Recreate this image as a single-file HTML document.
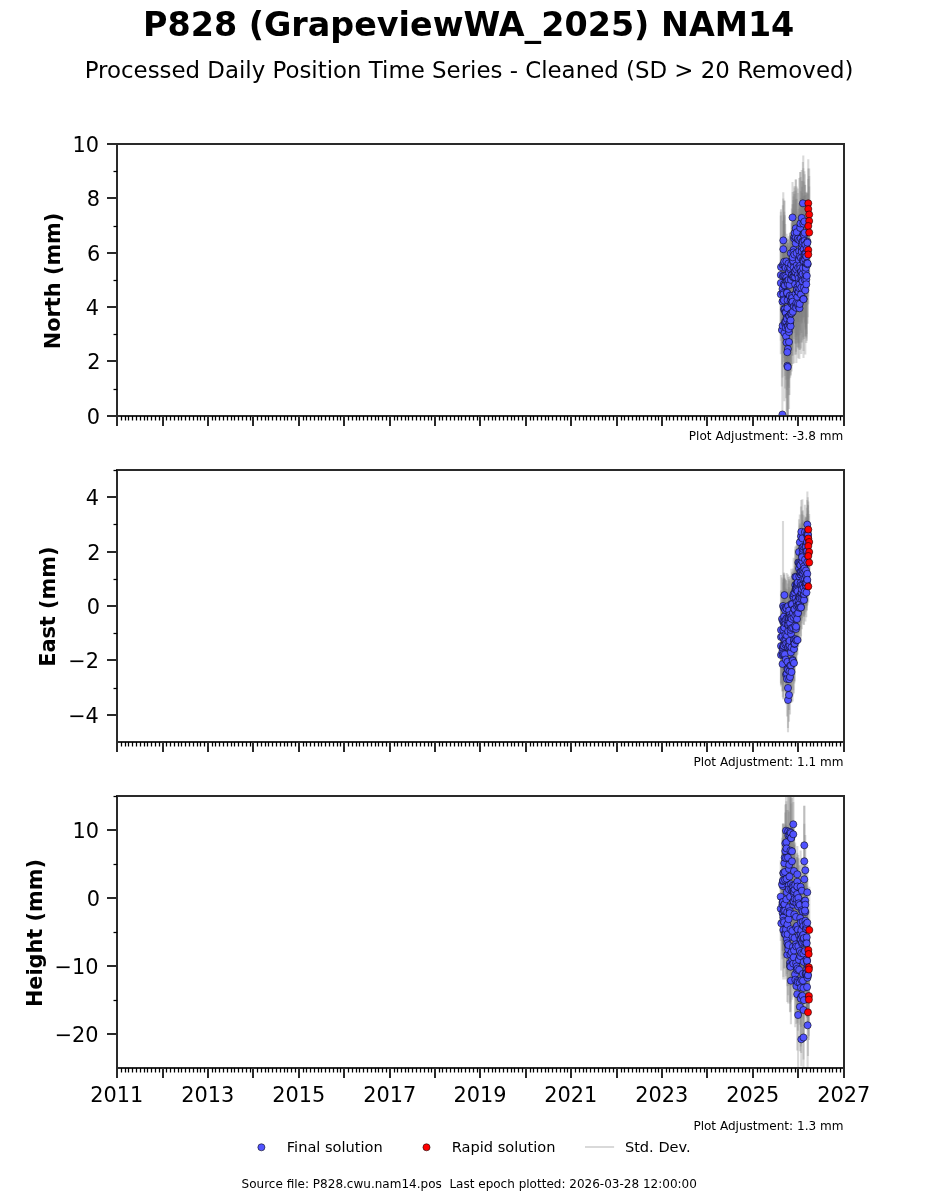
<!DOCTYPE html>
<html><head><meta charset="utf-8"><title>P828 (GrapeviewWA_2025) NAM14</title>
<style>html,body{margin:0;padding:0;background:#fff;}body{width:937px;height:1200px;overflow:hidden;}svg{display:block;will-change:transform;}</style>
</head><body>
<svg width="937" height="1200" viewBox="0 0 937 1200"><defs><clipPath id="c0"><rect x="117.19" y="144.00" width="726.56" height="271.76"/></clipPath><clipPath id="c1"><rect x="117.19" y="470.12" width="726.56" height="271.76"/></clipPath><clipPath id="c2"><rect x="117.19" y="796.24" width="726.56" height="271.76"/></clipPath></defs><rect width="937" height="1200" fill="#fff"/><g clip-path="url(#c0)"><g stroke="#808080" stroke-opacity="0.3" stroke-width="2.08"><path d="M781.0 324.7V209.3"/><path d="M780.8 354.3V211.7"/><path d="M780.8 334.6V215.4"/><path d="M780.8 340.8V247.8"/><path d="M781.9 386.6V273.4"/><path d="M782.4 364.4V238.8"/><path d="M782.4 499.5V329.5"/><path d="M782.6 377.5V273.8"/><path d="M782.5 334.5V243.5"/><path d="M782.8 324.5V205.3"/><path d="M783.0 331.4V220.8"/><path d="M783.3 351.5V234.3"/><path d="M783.4 347.4V241.5"/><path d="M783.3 282.3V198.5"/><path d="M783.5 349.2V249.8"/><path d="M783.8 353.6V214.7"/><path d="M783.3 306.1V192.3"/><path d="M784.1 334.0V217.4"/><path d="M783.9 358.0V242.8"/><path d="M784.4 401.2V264.8"/><path d="M784.0 362.1V256.5"/><path d="M784.8 376.0V242.6"/><path d="M784.3 317.3V211.8"/><path d="M784.5 329.6V200.7"/><path d="M784.6 339.4V231.4"/><path d="M784.2 323.0V200.4"/><path d="M784.9 355.3V215.3"/><path d="M785.0 369.9V277.0"/><path d="M785.1 388.4V254.8"/><path d="M785.3 328.5V224.0"/><path d="M785.4 367.4V256.9"/><path d="M785.6 291.7V244.1"/><path d="M785.8 359.6V265.9"/><path d="M785.9 379.7V275.7"/><path d="M786.1 398.2V274.5"/><path d="M786.0 368.9V273.6"/><path d="M786.3 284.4V238.4"/><path d="M786.9 340.7V245.0"/><path d="M786.4 317.7V237.9"/><path d="M786.5 411.5V273.4"/><path d="M786.6 328.7V233.7"/><path d="M786.8 367.4V267.8"/><path d="M787.0 390.0V247.6"/><path d="M787.1 342.5V243.0"/><path d="M787.9 417.5V280.5"/><path d="M787.3 420.9V283.5"/><path d="M787.6 357.7V242.8"/><path d="M787.3 415.8V315.8"/><path d="M787.4 358.7V257.8"/><path d="M787.5 318.1V243.7"/><path d="M787.9 379.5V273.8"/><path d="M787.8 415.4V318.6"/><path d="M788.5 284.2V242.8"/><path d="M788.0 329.0V239.7"/><path d="M788.1 386.5V266.1"/><path d="M788.2 298.2V239.0"/><path d="M789.1 379.5V252.9"/><path d="M788.6 323.5V236.3"/><path d="M789.6 324.3V245.8"/><path d="M789.0 408.9V275.1"/><path d="M789.0 388.1V275.9"/><path d="M788.7 395.2V262.9"/><path d="M788.9 298.1V246.0"/><path d="M789.5 394.9V251.3"/><path d="M790.0 306.2V232.5"/><path d="M789.4 373.1V258.6"/><path d="M790.1 350.4V241.1"/><path d="M789.9 358.4V233.1"/><path d="M790.2 377.7V267.5"/><path d="M790.5 368.7V234.7"/><path d="M790.6 374.8V277.7"/><path d="M790.4 300.8V234.8"/><path d="M790.6 375.7V264.9"/><path d="M790.8 270.0V236.6"/><path d="M791.5 336.6V222.4"/><path d="M791.2 296.8V232.1"/><path d="M790.7 370.2V256.8"/><path d="M791.4 349.1V251.5"/><path d="M791.6 324.3V231.0"/><path d="M791.0 327.6V232.1"/><path d="M791.6 371.5V255.1"/><path d="M791.7 366.0V241.4"/><path d="M791.8 341.9V208.6"/><path d="M792.2 325.9V223.5"/><path d="M792.0 347.2V244.6"/><path d="M792.3 350.4V245.4"/><path d="M792.1 355.7V249.3"/><path d="M792.5 253.0V182.0"/><path d="M792.5 314.4V204.2"/><path d="M792.6 355.5V248.0"/><path d="M793.3 324.4V200.0"/><path d="M793.0 310.3V210.2"/><path d="M793.2 308.6V212.8"/><path d="M792.8 364.1V259.6"/><path d="M792.7 322.7V191.9"/><path d="M793.1 330.2V224.2"/><path d="M793.8 338.9V214.5"/><path d="M793.6 295.8V204.0"/><path d="M793.5 308.3V196.5"/><path d="M794.3 315.1V193.9"/><path d="M793.7 319.5V215.8"/><path d="M794.0 285.5V191.3"/><path d="M794.1 363.2V249.4"/><path d="M794.2 333.1V211.3"/><path d="M794.5 285.7V187.4"/><path d="M795.5 337.0V208.8"/><path d="M794.6 280.3V186.0"/><path d="M795.1 354.8V213.8"/><path d="M795.0 327.5V226.6"/><path d="M795.2 324.4V220.7"/><path d="M795.6 344.0V243.2"/><path d="M795.3 343.2V199.7"/><path d="M795.7 296.0V190.5"/><path d="M795.8 296.0V179.1"/><path d="M795.8 276.6V180.0"/><path d="M796.3 340.0V198.7"/><path d="M796.0 351.8V259.5"/><path d="M796.7 278.1V186.4"/><path d="M796.4 363.0V243.1"/><path d="M796.2 354.4V261.1"/><path d="M796.6 307.2V199.1"/><path d="M796.8 319.1V211.4"/><path d="M796.9 334.9V244.7"/><path d="M797.3 342.8V250.9"/><path d="M797.4 347.1V227.4"/><path d="M797.1 336.7V242.6"/><path d="M797.7 289.6V188.6"/><path d="M798.2 321.7V213.7"/><path d="M797.9 321.9V228.1"/><path d="M797.8 284.6V192.9"/><path d="M798.3 358.2V253.5"/><path d="M798.8 316.8V203.3"/><path d="M798.4 342.6V241.5"/><path d="M798.1 348.4V258.9"/><path d="M799.1 327.2V236.6"/><path d="M798.6 343.4V240.1"/><path d="M799.4 359.1V217.2"/><path d="M798.7 347.4V208.9"/><path d="M799.3 302.3V177.9"/><path d="M799.2 298.6V203.6"/><path d="M799.5 350.0V266.6"/><path d="M799.7 349.8V258.3"/><path d="M799.6 335.3V233.5"/><path d="M800.1 311.5V220.1"/><path d="M799.9 304.6V207.8"/><path d="M800.3 330.4V206.2"/><path d="M800.6 321.8V226.3"/><path d="M800.7 275.3V176.9"/><path d="M800.2 283.6V172.1"/><path d="M800.9 348.5V240.4"/><path d="M800.4 275.2V171.9"/><path d="M800.8 285.9V191.2"/><path d="M801.3 354.1V221.1"/><path d="M801.2 342.6V216.0"/><path d="M801.0 317.7V198.1"/><path d="M801.4 333.0V209.7"/><path d="M801.7 323.5V228.1"/><path d="M801.9 301.9V197.8"/><path d="M802.0 308.2V186.7"/><path d="M801.8 322.5V181.0"/><path d="M801.7 265.9V169.9"/><path d="M802.2 342.4V217.8"/><path d="M802.5 340.2V222.2"/><path d="M802.7 319.2V228.4"/><path d="M803.0 337.2V199.1"/><path d="M802.9 306.5V212.9"/><path d="M802.3 290.0V193.0"/><path d="M802.4 308.1V180.7"/><path d="M803.5 358.0V239.9"/><path d="M803.4 300.7V168.2"/><path d="M803.2 317.8V203.4"/><path d="M803.7 299.1V199.5"/><path d="M802.8 288.1V196.2"/><path d="M803.3 291.6V155.6"/><path d="M802.9 244.7V161.9"/><path d="M803.9 339.1V235.9"/><path d="M803.5 351.1V247.3"/><path d="M803.8 317.1V205.4"/><path d="M804.0 288.5V181.6"/><path d="M804.2 312.8V195.6"/><path d="M804.5 286.1V195.7"/><path d="M804.8 336.6V222.7"/><path d="M804.4 272.0V171.2"/><path d="M805.3 354.5V226.1"/><path d="M804.7 291.4V174.2"/><path d="M805.2 321.8V184.8"/><path d="M805.0 323.4V184.9"/><path d="M805.5 327.3V220.2"/><path d="M805.4 297.2V192.1"/><path d="M806.0 335.8V195.1"/><path d="M805.6 329.8V212.6"/><path d="M805.3 307.0V211.8"/><path d="M805.8 300.0V207.6"/><path d="M806.3 336.8V193.3"/><path d="M805.9 328.5V207.2"/><path d="M806.4 302.9V209.9"/><path d="M806.3 338.5V220.9"/><path d="M806.3 342.9V225.7"/><path d="M806.9 305.3V191.8"/><path d="M806.8 340.7V211.0"/><path d="M806.5 334.0V192.8"/><path d="M807.5 290.1V193.3"/><path d="M807.4 291.8V193.6"/><path d="M807.7 317.3V211.3"/><path d="M807.6 323.7V203.1"/><path d="M808.3 247.4V159.2"/><path d="M808.3 249.6V168.4"/><path d="M809.2 260.6V168.4"/><path d="M809.2 266.1V175.9"/><path d="M808.3 273.1V178.9"/><path d="M809.2 278.6V186.4"/><path d="M808.3 296.5V203.5"/><path d="M808.3 304.2V204.8"/></g><g fill="#5153ff" stroke="#000000" stroke-width="0.55"><circle cx="781.0" cy="267.0" r="3.55"/><circle cx="780.8" cy="283.0" r="3.55"/><circle cx="780.8" cy="275.0" r="3.55"/><circle cx="780.8" cy="294.3" r="3.55"/><circle cx="781.9" cy="330.0" r="3.55"/><circle cx="782.4" cy="301.6" r="3.55"/><circle cx="782.4" cy="414.5" r="3.55"/><circle cx="782.6" cy="325.7" r="3.55"/><circle cx="782.5" cy="289.0" r="3.55"/><circle cx="782.8" cy="264.9" r="3.55"/><circle cx="783.0" cy="276.1" r="3.55"/><circle cx="783.3" cy="292.9" r="3.55"/><circle cx="783.4" cy="294.4" r="3.55"/><circle cx="783.3" cy="240.4" r="3.55"/><circle cx="783.5" cy="299.5" r="3.55"/><circle cx="783.8" cy="284.2" r="3.55"/><circle cx="783.3" cy="249.2" r="3.55"/><circle cx="784.1" cy="275.7" r="3.55"/><circle cx="783.9" cy="300.4" r="3.55"/><circle cx="784.4" cy="333.0" r="3.55"/><circle cx="784.0" cy="309.3" r="3.55"/><circle cx="784.8" cy="309.3" r="3.55"/><circle cx="784.3" cy="264.5" r="3.55"/><circle cx="784.5" cy="265.1" r="3.55"/><circle cx="784.6" cy="285.4" r="3.55"/><circle cx="784.2" cy="261.7" r="3.55"/><circle cx="784.9" cy="285.3" r="3.55"/><circle cx="785.0" cy="323.5" r="3.55"/><circle cx="785.1" cy="321.6" r="3.55"/><circle cx="785.3" cy="276.2" r="3.55"/><circle cx="785.4" cy="312.2" r="3.55"/><circle cx="785.6" cy="267.9" r="3.55"/><circle cx="785.8" cy="312.8" r="3.55"/><circle cx="785.9" cy="327.7" r="3.55"/><circle cx="786.1" cy="336.4" r="3.55"/><circle cx="786.0" cy="321.2" r="3.55"/><circle cx="786.3" cy="261.4" r="3.55"/><circle cx="786.9" cy="292.8" r="3.55"/><circle cx="786.4" cy="277.8" r="3.55"/><circle cx="786.5" cy="342.5" r="3.55"/><circle cx="786.6" cy="281.2" r="3.55"/><circle cx="786.8" cy="317.6" r="3.55"/><circle cx="787.0" cy="318.8" r="3.55"/><circle cx="787.1" cy="292.8" r="3.55"/><circle cx="787.9" cy="349.0" r="3.55"/><circle cx="787.3" cy="352.2" r="3.55"/><circle cx="787.6" cy="300.3" r="3.55"/><circle cx="787.3" cy="365.8" r="3.55"/><circle cx="787.4" cy="308.2" r="3.55"/><circle cx="787.5" cy="280.9" r="3.55"/><circle cx="787.9" cy="326.7" r="3.55"/><circle cx="787.8" cy="367.0" r="3.55"/><circle cx="788.5" cy="263.5" r="3.55"/><circle cx="788.0" cy="284.4" r="3.55"/><circle cx="788.1" cy="326.3" r="3.55"/><circle cx="788.2" cy="268.6" r="3.55"/><circle cx="789.1" cy="316.2" r="3.55"/><circle cx="788.6" cy="279.9" r="3.55"/><circle cx="789.6" cy="285.0" r="3.55"/><circle cx="789.0" cy="342.0" r="3.55"/><circle cx="789.0" cy="332.0" r="3.55"/><circle cx="788.7" cy="329.0" r="3.55"/><circle cx="788.9" cy="272.1" r="3.55"/><circle cx="789.5" cy="323.1" r="3.55"/><circle cx="790.0" cy="269.3" r="3.55"/><circle cx="789.4" cy="315.9" r="3.55"/><circle cx="790.1" cy="295.7" r="3.55"/><circle cx="789.9" cy="295.7" r="3.55"/><circle cx="790.2" cy="322.6" r="3.55"/><circle cx="790.5" cy="301.7" r="3.55"/><circle cx="790.6" cy="326.2" r="3.55"/><circle cx="790.4" cy="267.8" r="3.55"/><circle cx="790.6" cy="320.3" r="3.55"/><circle cx="790.8" cy="253.3" r="3.55"/><circle cx="791.5" cy="279.5" r="3.55"/><circle cx="791.2" cy="264.4" r="3.55"/><circle cx="790.7" cy="313.5" r="3.55"/><circle cx="791.4" cy="300.3" r="3.55"/><circle cx="791.6" cy="277.6" r="3.55"/><circle cx="791.0" cy="279.9" r="3.55"/><circle cx="791.6" cy="313.3" r="3.55"/><circle cx="791.7" cy="303.7" r="3.55"/><circle cx="791.8" cy="275.3" r="3.55"/><circle cx="792.2" cy="274.7" r="3.55"/><circle cx="792.0" cy="295.9" r="3.55"/><circle cx="792.3" cy="297.9" r="3.55"/><circle cx="792.1" cy="302.5" r="3.55"/><circle cx="792.5" cy="217.5" r="3.55"/><circle cx="792.5" cy="259.3" r="3.55"/><circle cx="792.6" cy="301.7" r="3.55"/><circle cx="793.3" cy="262.2" r="3.55"/><circle cx="793.0" cy="260.2" r="3.55"/><circle cx="793.2" cy="260.7" r="3.55"/><circle cx="792.8" cy="311.8" r="3.55"/><circle cx="792.7" cy="257.3" r="3.55"/><circle cx="793.1" cy="277.2" r="3.55"/><circle cx="793.8" cy="276.7" r="3.55"/><circle cx="793.6" cy="249.9" r="3.55"/><circle cx="793.5" cy="252.4" r="3.55"/><circle cx="794.3" cy="254.5" r="3.55"/><circle cx="793.7" cy="267.7" r="3.55"/><circle cx="794.0" cy="238.4" r="3.55"/><circle cx="794.1" cy="306.3" r="3.55"/><circle cx="794.2" cy="272.2" r="3.55"/><circle cx="794.5" cy="236.5" r="3.55"/><circle cx="795.5" cy="272.9" r="3.55"/><circle cx="794.6" cy="233.1" r="3.55"/><circle cx="795.1" cy="284.3" r="3.55"/><circle cx="795.0" cy="277.1" r="3.55"/><circle cx="795.2" cy="272.5" r="3.55"/><circle cx="795.6" cy="293.6" r="3.55"/><circle cx="795.3" cy="271.5" r="3.55"/><circle cx="795.7" cy="243.3" r="3.55"/><circle cx="795.8" cy="237.6" r="3.55"/><circle cx="795.8" cy="228.3" r="3.55"/><circle cx="796.3" cy="269.3" r="3.55"/><circle cx="796.0" cy="305.6" r="3.55"/><circle cx="796.7" cy="232.2" r="3.55"/><circle cx="796.4" cy="303.0" r="3.55"/><circle cx="796.2" cy="307.8" r="3.55"/><circle cx="796.6" cy="253.1" r="3.55"/><circle cx="796.8" cy="265.3" r="3.55"/><circle cx="796.9" cy="289.8" r="3.55"/><circle cx="797.3" cy="296.9" r="3.55"/><circle cx="797.4" cy="287.2" r="3.55"/><circle cx="797.1" cy="289.7" r="3.55"/><circle cx="797.7" cy="239.1" r="3.55"/><circle cx="798.2" cy="267.7" r="3.55"/><circle cx="797.9" cy="275.0" r="3.55"/><circle cx="797.8" cy="238.7" r="3.55"/><circle cx="798.3" cy="305.9" r="3.55"/><circle cx="798.8" cy="260.0" r="3.55"/><circle cx="798.4" cy="292.0" r="3.55"/><circle cx="798.1" cy="303.6" r="3.55"/><circle cx="799.1" cy="281.9" r="3.55"/><circle cx="798.6" cy="291.8" r="3.55"/><circle cx="799.4" cy="288.2" r="3.55"/><circle cx="798.7" cy="278.1" r="3.55"/><circle cx="799.3" cy="240.1" r="3.55"/><circle cx="799.2" cy="251.1" r="3.55"/><circle cx="799.5" cy="308.3" r="3.55"/><circle cx="799.7" cy="304.0" r="3.55"/><circle cx="799.6" cy="284.4" r="3.55"/><circle cx="800.1" cy="265.8" r="3.55"/><circle cx="799.9" cy="256.2" r="3.55"/><circle cx="800.3" cy="268.3" r="3.55"/><circle cx="800.6" cy="274.0" r="3.55"/><circle cx="800.7" cy="226.1" r="3.55"/><circle cx="800.2" cy="227.9" r="3.55"/><circle cx="800.9" cy="294.5" r="3.55"/><circle cx="800.4" cy="223.5" r="3.55"/><circle cx="800.8" cy="238.5" r="3.55"/><circle cx="801.3" cy="287.6" r="3.55"/><circle cx="801.2" cy="279.3" r="3.55"/><circle cx="801.0" cy="257.9" r="3.55"/><circle cx="801.4" cy="271.4" r="3.55"/><circle cx="801.7" cy="275.8" r="3.55"/><circle cx="801.9" cy="249.9" r="3.55"/><circle cx="802.0" cy="247.5" r="3.55"/><circle cx="801.8" cy="251.8" r="3.55"/><circle cx="801.7" cy="217.9" r="3.55"/><circle cx="802.2" cy="280.1" r="3.55"/><circle cx="802.5" cy="281.2" r="3.55"/><circle cx="802.7" cy="273.8" r="3.55"/><circle cx="803.0" cy="268.1" r="3.55"/><circle cx="802.9" cy="259.7" r="3.55"/><circle cx="802.3" cy="241.5" r="3.55"/><circle cx="802.4" cy="244.4" r="3.55"/><circle cx="803.5" cy="298.9" r="3.55"/><circle cx="803.4" cy="234.5" r="3.55"/><circle cx="803.2" cy="260.6" r="3.55"/><circle cx="803.7" cy="249.3" r="3.55"/><circle cx="802.8" cy="242.1" r="3.55"/><circle cx="803.3" cy="223.6" r="3.55"/><circle cx="802.9" cy="203.3" r="3.55"/><circle cx="803.9" cy="287.5" r="3.55"/><circle cx="803.5" cy="299.2" r="3.55"/><circle cx="803.8" cy="261.3" r="3.55"/><circle cx="804.0" cy="235.1" r="3.55"/><circle cx="804.2" cy="254.2" r="3.55"/><circle cx="804.5" cy="240.9" r="3.55"/><circle cx="804.8" cy="279.7" r="3.55"/><circle cx="804.4" cy="221.6" r="3.55"/><circle cx="805.3" cy="290.3" r="3.55"/><circle cx="804.7" cy="232.8" r="3.55"/><circle cx="805.2" cy="253.3" r="3.55"/><circle cx="805.0" cy="254.1" r="3.55"/><circle cx="805.5" cy="273.8" r="3.55"/><circle cx="805.4" cy="244.7" r="3.55"/><circle cx="806.0" cy="265.5" r="3.55"/><circle cx="805.6" cy="271.2" r="3.55"/><circle cx="805.3" cy="259.4" r="3.55"/><circle cx="805.8" cy="253.8" r="3.55"/><circle cx="806.3" cy="265.0" r="3.55"/><circle cx="805.9" cy="267.8" r="3.55"/><circle cx="806.4" cy="256.4" r="3.55"/><circle cx="806.3" cy="279.7" r="3.55"/><circle cx="806.3" cy="284.3" r="3.55"/><circle cx="806.9" cy="248.6" r="3.55"/><circle cx="806.8" cy="275.8" r="3.55"/><circle cx="806.5" cy="263.4" r="3.55"/><circle cx="807.5" cy="241.7" r="3.55"/><circle cx="807.4" cy="242.7" r="3.55"/><circle cx="807.7" cy="264.3" r="3.55"/><circle cx="807.6" cy="263.4" r="3.55"/></g><g fill="#ff0000" stroke="#000000" stroke-width="0.55"><circle cx="808.3" cy="203.3" r="3.55"/><circle cx="808.3" cy="209.0" r="3.55"/><circle cx="809.2" cy="214.5" r="3.55"/><circle cx="809.2" cy="221.0" r="3.55"/><circle cx="808.3" cy="226.0" r="3.55"/><circle cx="809.2" cy="232.5" r="3.55"/><circle cx="808.3" cy="250.0" r="3.55"/><circle cx="808.3" cy="254.5" r="3.55"/></g></g><g fill="#2a2a2a"><rect x="116" y="143" width="2" height="274"/><rect x="843" y="143" width="2" height="274"/><rect x="116" y="143" width="729" height="2"/><rect x="116" y="415" width="729" height="2"/><rect x="107" y="415" width="9" height="2"/><rect x="107" y="360" width="9" height="2"/><rect x="107" y="306" width="9" height="2"/><rect x="107" y="252" width="9" height="2"/><rect x="107" y="197" width="9" height="2"/><rect x="107" y="143" width="9" height="2"/><rect x="116" y="417" width="2" height="9"/><rect x="162" y="417" width="2" height="9"/><rect x="207" y="417" width="2" height="9"/><rect x="252" y="417" width="2" height="9"/><rect x="298" y="417" width="2" height="9"/><rect x="343" y="417" width="2" height="9"/><rect x="389" y="417" width="2" height="9"/><rect x="434" y="417" width="2" height="9"/><rect x="479" y="417" width="2" height="9"/><rect x="525" y="417" width="2" height="9"/><rect x="570" y="417" width="2" height="9"/><rect x="616" y="417" width="2" height="9"/><rect x="661" y="417" width="2" height="9"/><rect x="706" y="417" width="2" height="9"/><rect x="752" y="417" width="2" height="9"/><rect x="797" y="417" width="2" height="9"/><rect x="843" y="417" width="2" height="9"/></g><g fill="#000"><rect x="113.5" y="388.875" width="3.7" height="1.25"/><rect x="113.5" y="333.875" width="3.7" height="1.25"/><rect x="113.5" y="279.875" width="3.7" height="1.25"/><rect x="113.5" y="225.875" width="3.7" height="1.25"/><rect x="113.5" y="170.875" width="3.7" height="1.25"/><rect x="120.875" y="416" width="1.25" height="4.5"/><rect x="124.875" y="416" width="1.25" height="4.5"/><rect x="127.875" y="416" width="1.25" height="4.5"/><rect x="131.875" y="416" width="1.25" height="4.5"/><rect x="135.875" y="416" width="1.25" height="4.5"/><rect x="139.875" y="416" width="1.25" height="4.5"/><rect x="143.875" y="416" width="1.25" height="4.5"/><rect x="146.875" y="416" width="1.25" height="4.5"/><rect x="150.875" y="416" width="1.25" height="4.5"/><rect x="154.875" y="416" width="1.25" height="4.5"/><rect x="158.875" y="416" width="1.25" height="4.5"/><rect x="165.875" y="416" width="1.25" height="4.5"/><rect x="169.875" y="416" width="1.25" height="4.5"/><rect x="173.875" y="416" width="1.25" height="4.5"/><rect x="177.875" y="416" width="1.25" height="4.5"/><rect x="180.875" y="416" width="1.25" height="4.5"/><rect x="184.875" y="416" width="1.25" height="4.5"/><rect x="188.875" y="416" width="1.25" height="4.5"/><rect x="192.875" y="416" width="1.25" height="4.5"/><rect x="196.875" y="416" width="1.25" height="4.5"/><rect x="199.875" y="416" width="1.25" height="4.5"/><rect x="203.875" y="416" width="1.25" height="4.5"/><rect x="211.875" y="416" width="1.25" height="4.5"/><rect x="214.875" y="416" width="1.25" height="4.5"/><rect x="218.875" y="416" width="1.25" height="4.5"/><rect x="222.875" y="416" width="1.25" height="4.5"/><rect x="226.875" y="416" width="1.25" height="4.5"/><rect x="230.875" y="416" width="1.25" height="4.5"/><rect x="233.875" y="416" width="1.25" height="4.5"/><rect x="237.875" y="416" width="1.25" height="4.5"/><rect x="241.875" y="416" width="1.25" height="4.5"/><rect x="245.875" y="416" width="1.25" height="4.5"/><rect x="249.875" y="416" width="1.25" height="4.5"/><rect x="256.875" y="416" width="1.25" height="4.5"/><rect x="260.875" y="416" width="1.25" height="4.5"/><rect x="264.875" y="416" width="1.25" height="4.5"/><rect x="267.875" y="416" width="1.25" height="4.5"/><rect x="271.875" y="416" width="1.25" height="4.5"/><rect x="275.875" y="416" width="1.25" height="4.5"/><rect x="279.875" y="416" width="1.25" height="4.5"/><rect x="283.875" y="416" width="1.25" height="4.5"/><rect x="286.875" y="416" width="1.25" height="4.5"/><rect x="290.875" y="416" width="1.25" height="4.5"/><rect x="294.875" y="416" width="1.25" height="4.5"/><rect x="302.875" y="416" width="1.25" height="4.5"/><rect x="305.875" y="416" width="1.25" height="4.5"/><rect x="309.875" y="416" width="1.25" height="4.5"/><rect x="313.875" y="416" width="1.25" height="4.5"/><rect x="317.875" y="416" width="1.25" height="4.5"/><rect x="320.875" y="416" width="1.25" height="4.5"/><rect x="324.875" y="416" width="1.25" height="4.5"/><rect x="328.875" y="416" width="1.25" height="4.5"/><rect x="332.875" y="416" width="1.25" height="4.5"/><rect x="336.875" y="416" width="1.25" height="4.5"/><rect x="339.875" y="416" width="1.25" height="4.5"/><rect x="347.875" y="416" width="1.25" height="4.5"/><rect x="351.875" y="416" width="1.25" height="4.5"/><rect x="355.875" y="416" width="1.25" height="4.5"/><rect x="358.875" y="416" width="1.25" height="4.5"/><rect x="362.875" y="416" width="1.25" height="4.5"/><rect x="366.875" y="416" width="1.25" height="4.5"/><rect x="370.875" y="416" width="1.25" height="4.5"/><rect x="374.875" y="416" width="1.25" height="4.5"/><rect x="377.875" y="416" width="1.25" height="4.5"/><rect x="381.875" y="416" width="1.25" height="4.5"/><rect x="385.875" y="416" width="1.25" height="4.5"/><rect x="393.875" y="416" width="1.25" height="4.5"/><rect x="396.875" y="416" width="1.25" height="4.5"/><rect x="400.875" y="416" width="1.25" height="4.5"/><rect x="404.875" y="416" width="1.25" height="4.5"/><rect x="407.875" y="416" width="1.25" height="4.5"/><rect x="411.875" y="416" width="1.25" height="4.5"/><rect x="415.875" y="416" width="1.25" height="4.5"/><rect x="419.875" y="416" width="1.25" height="4.5"/><rect x="423.875" y="416" width="1.25" height="4.5"/><rect x="427.875" y="416" width="1.25" height="4.5"/><rect x="430.875" y="416" width="1.25" height="4.5"/><rect x="438.875" y="416" width="1.25" height="4.5"/><rect x="441.875" y="416" width="1.25" height="4.5"/><rect x="445.875" y="416" width="1.25" height="4.5"/><rect x="449.875" y="416" width="1.25" height="4.5"/><rect x="453.875" y="416" width="1.25" height="4.5"/><rect x="457.875" y="416" width="1.25" height="4.5"/><rect x="460.875" y="416" width="1.25" height="4.5"/><rect x="464.875" y="416" width="1.25" height="4.5"/><rect x="468.875" y="416" width="1.25" height="4.5"/><rect x="472.875" y="416" width="1.25" height="4.5"/><rect x="476.875" y="416" width="1.25" height="4.5"/><rect x="483.875" y="416" width="1.25" height="4.5"/><rect x="487.875" y="416" width="1.25" height="4.5"/><rect x="491.875" y="416" width="1.25" height="4.5"/><rect x="494.875" y="416" width="1.25" height="4.5"/><rect x="498.875" y="416" width="1.25" height="4.5"/><rect x="502.875" y="416" width="1.25" height="4.5"/><rect x="506.875" y="416" width="1.25" height="4.5"/><rect x="510.875" y="416" width="1.25" height="4.5"/><rect x="513.875" y="416" width="1.25" height="4.5"/><rect x="517.875" y="416" width="1.25" height="4.5"/><rect x="521.875" y="416" width="1.25" height="4.5"/><rect x="529.875" y="416" width="1.25" height="4.5"/><rect x="532.875" y="416" width="1.25" height="4.5"/><rect x="536.875" y="416" width="1.25" height="4.5"/><rect x="540.875" y="416" width="1.25" height="4.5"/><rect x="544.875" y="416" width="1.25" height="4.5"/><rect x="547.875" y="416" width="1.25" height="4.5"/><rect x="551.875" y="416" width="1.25" height="4.5"/><rect x="555.875" y="416" width="1.25" height="4.5"/><rect x="559.875" y="416" width="1.25" height="4.5"/><rect x="563.875" y="416" width="1.25" height="4.5"/><rect x="566.875" y="416" width="1.25" height="4.5"/><rect x="574.875" y="416" width="1.25" height="4.5"/><rect x="578.875" y="416" width="1.25" height="4.5"/><rect x="582.875" y="416" width="1.25" height="4.5"/><rect x="585.875" y="416" width="1.25" height="4.5"/><rect x="589.875" y="416" width="1.25" height="4.5"/><rect x="593.875" y="416" width="1.25" height="4.5"/><rect x="597.875" y="416" width="1.25" height="4.5"/><rect x="601.875" y="416" width="1.25" height="4.5"/><rect x="604.875" y="416" width="1.25" height="4.5"/><rect x="608.875" y="416" width="1.25" height="4.5"/><rect x="612.875" y="416" width="1.25" height="4.5"/><rect x="620.875" y="416" width="1.25" height="4.5"/><rect x="623.875" y="416" width="1.25" height="4.5"/><rect x="627.875" y="416" width="1.25" height="4.5"/><rect x="631.875" y="416" width="1.25" height="4.5"/><rect x="635.875" y="416" width="1.25" height="4.5"/><rect x="638.875" y="416" width="1.25" height="4.5"/><rect x="642.875" y="416" width="1.25" height="4.5"/><rect x="646.875" y="416" width="1.25" height="4.5"/><rect x="650.875" y="416" width="1.25" height="4.5"/><rect x="654.875" y="416" width="1.25" height="4.5"/><rect x="657.875" y="416" width="1.25" height="4.5"/><rect x="665.875" y="416" width="1.25" height="4.5"/><rect x="668.875" y="416" width="1.25" height="4.5"/><rect x="672.875" y="416" width="1.25" height="4.5"/><rect x="676.875" y="416" width="1.25" height="4.5"/><rect x="680.875" y="416" width="1.25" height="4.5"/><rect x="684.875" y="416" width="1.25" height="4.5"/><rect x="687.875" y="416" width="1.25" height="4.5"/><rect x="691.875" y="416" width="1.25" height="4.5"/><rect x="695.875" y="416" width="1.25" height="4.5"/><rect x="699.875" y="416" width="1.25" height="4.5"/><rect x="703.875" y="416" width="1.25" height="4.5"/><rect x="710.875" y="416" width="1.25" height="4.5"/><rect x="714.875" y="416" width="1.25" height="4.5"/><rect x="718.875" y="416" width="1.25" height="4.5"/><rect x="722.875" y="416" width="1.25" height="4.5"/><rect x="725.875" y="416" width="1.25" height="4.5"/><rect x="729.875" y="416" width="1.25" height="4.5"/><rect x="733.875" y="416" width="1.25" height="4.5"/><rect x="737.875" y="416" width="1.25" height="4.5"/><rect x="741.875" y="416" width="1.25" height="4.5"/><rect x="744.875" y="416" width="1.25" height="4.5"/><rect x="748.875" y="416" width="1.25" height="4.5"/><rect x="756.875" y="416" width="1.25" height="4.5"/><rect x="759.875" y="416" width="1.25" height="4.5"/><rect x="763.875" y="416" width="1.25" height="4.5"/><rect x="767.875" y="416" width="1.25" height="4.5"/><rect x="771.875" y="416" width="1.25" height="4.5"/><rect x="774.875" y="416" width="1.25" height="4.5"/><rect x="778.875" y="416" width="1.25" height="4.5"/><rect x="782.875" y="416" width="1.25" height="4.5"/><rect x="786.875" y="416" width="1.25" height="4.5"/><rect x="790.875" y="416" width="1.25" height="4.5"/><rect x="794.875" y="416" width="1.25" height="4.5"/><rect x="801.875" y="416" width="1.25" height="4.5"/><rect x="805.875" y="416" width="1.25" height="4.5"/><rect x="809.875" y="416" width="1.25" height="4.5"/><rect x="812.875" y="416" width="1.25" height="4.5"/><rect x="816.875" y="416" width="1.25" height="4.5"/><rect x="820.875" y="416" width="1.25" height="4.5"/><rect x="824.875" y="416" width="1.25" height="4.5"/><rect x="828.875" y="416" width="1.25" height="4.5"/><rect x="831.875" y="416" width="1.25" height="4.5"/><rect x="835.875" y="416" width="1.25" height="4.5"/><rect x="839.875" y="416" width="1.25" height="4.5"/></g><g clip-path="url(#c1)"><g stroke="#808080" stroke-opacity="0.3" stroke-width="2.08"><path d="M781.0 684.9V575.1"/><path d="M781.0 683.4V608.6"/><path d="M781.0 683.4V590.6"/><path d="M781.0 686.4V623.6"/><path d="M782.4 677.9V594.6"/><path d="M782.0 660.5V577.5"/><path d="M782.6 691.3V617.4"/><path d="M782.5 691.5V636.5"/><path d="M782.8 697.3V601.3"/><path d="M783.3 677.4V582.6"/><path d="M783.0 691.0V521.0"/><path d="M782.5 685.1V617.4"/><path d="M782.9 683.8V612.0"/><path d="M783.6 698.8V609.0"/><path d="M783.4 699.4V592.6"/><path d="M783.0 663.2V579.6"/><path d="M783.8 680.8V610.8"/><path d="M783.9 643.4V572.4"/><path d="M784.0 671.6V573.5"/><path d="M784.1 658.0V575.1"/><path d="M784.3 677.3V578.0"/><path d="M784.4 680.2V599.6"/><path d="M784.4 611.1V579.1"/><path d="M785.0 640.5V579.1"/><path d="M784.6 665.5V577.6"/><path d="M785.3 689.9V598.9"/><path d="M785.4 674.6V595.0"/><path d="M784.9 691.4V617.1"/><path d="M785.6 659.4V587.4"/><path d="M785.9 635.2V579.9"/><path d="M785.5 692.4V589.1"/><path d="M785.8 698.7V620.4"/><path d="M786.1 704.3V644.6"/><path d="M786.3 682.8V603.8"/><path d="M786.0 657.7V580.4"/><path d="M787.0 666.3V604.9"/><path d="M786.8 702.9V644.0"/><path d="M786.6 644.0V572.9"/><path d="M787.0 716.4V641.6"/><path d="M787.2 646.4V588.9"/><path d="M787.5 700.0V623.5"/><path d="M787.4 702.0V635.6"/><path d="M788.0 675.8V618.4"/><path d="M788.1 637.7V574.4"/><path d="M787.6 665.1V583.6"/><path d="M788.0 728.0V648.0"/><path d="M788.0 732.3V667.7"/><path d="M787.9 696.6V642.6"/><path d="M788.6 657.9V577.0"/><path d="M788.5 684.3V600.7"/><path d="M789.0 655.3V586.9"/><path d="M788.7 650.8V591.6"/><path d="M788.2 665.9V596.5"/><path d="M788.9 654.9V580.6"/><path d="M788.4 658.7V591.3"/><path d="M789.2 642.2V578.9"/><path d="M789.4 676.7V616.7"/><path d="M789.1 709.9V648.4"/><path d="M789.0 721.8V668.2"/><path d="M789.6 675.3V615.1"/><path d="M789.7 682.1V599.6"/><path d="M789.5 697.2V645.0"/><path d="M790.0 714.6V639.4"/><path d="M789.9 653.6V576.3"/><path d="M790.2 698.1V633.1"/><path d="M790.5 661.1V590.0"/><path d="M790.1 652.6V593.5"/><path d="M790.4 653.9V580.6"/><path d="M791.0 702.7V628.1"/><path d="M790.9 690.2V614.7"/><path d="M791.1 667.6V599.9"/><path d="M790.6 671.5V588.4"/><path d="M791.2 656.1V578.1"/><path d="M791.4 639.1V568.8"/><path d="M791.7 665.0V591.2"/><path d="M791.5 702.4V641.6"/><path d="M792.2 638.0V571.8"/><path d="M791.6 655.2V582.5"/><path d="M791.5 687.7V607.0"/><path d="M792.1 634.9V573.6"/><path d="M792.6 701.6V618.2"/><path d="M793.3 690.3V634.9"/><path d="M792.7 695.3V626.3"/><path d="M793.0 624.1V568.5"/><path d="M793.1 656.7V598.6"/><path d="M793.5 655.3V578.9"/><path d="M793.8 624.7V570.6"/><path d="M794.0 681.1V616.9"/><path d="M794.0 669.8V611.7"/><path d="M793.7 629.7V557.8"/><path d="M793.0 640.1V585.4"/><path d="M794.1 671.0V608.2"/><path d="M794.3 683.6V604.2"/><path d="M794.2 646.3V572.3"/><path d="M794.6 646.4V571.9"/><path d="M794.0 693.5V632.5"/><path d="M794.8 618.8V566.0"/><path d="M795.3 652.0V578.8"/><path d="M795.1 663.7V587.8"/><path d="M794.7 681.5V605.5"/><path d="M795.7 635.9V561.1"/><path d="M795.5 666.3V611.9"/><path d="M795.3 604.1V549.5"/><path d="M795.3 623.4V546.6"/><path d="M796.0 664.8V593.2"/><path d="M795.6 619.2V558.8"/><path d="M795.8 615.6V563.3"/><path d="M796.2 623.1V554.1"/><path d="M796.4 661.1V619.7"/><path d="M796.1 664.7V588.7"/><path d="M796.3 608.5V545.6"/><path d="M796.9 622.6V544.8"/><path d="M797.1 641.5V586.4"/><path d="M796.8 623.1V555.3"/><path d="M796.6 629.4V574.3"/><path d="M797.0 655.6V582.4"/><path d="M796.7 641.1V571.2"/><path d="M798.3 592.3V532.7"/><path d="M797.4 626.4V543.6"/><path d="M797.7 620.4V546.5"/><path d="M797.5 654.4V625.6"/><path d="M798.1 647.1V579.1"/><path d="M797.6 623.3V559.1"/><path d="M798.2 646.6V564.5"/><path d="M797.8 613.3V551.8"/><path d="M798.8 638.5V555.0"/><path d="M798.4 627.3V573.3"/><path d="M798.6 643.2V567.7"/><path d="M799.3 607.1V545.7"/><path d="M799.0 584.8V519.2"/><path d="M799.4 633.7V561.4"/><path d="M799.8 630.4V576.9"/><path d="M799.1 598.1V538.9"/><path d="M799.8 570.0V514.6"/><path d="M799.7 601.3V525.6"/><path d="M799.2 592.8V533.7"/><path d="M799.6 640.9V574.8"/><path d="M800.2 627.4V564.9"/><path d="M800.1 628.5V568.9"/><path d="M799.9 605.4V523.5"/><path d="M800.6 617.1V548.8"/><path d="M800.4 601.7V528.9"/><path d="M800.8 611.6V537.1"/><path d="M800.9 642.0V572.2"/><path d="M800.7 604.8V544.4"/><path d="M800.3 599.2V544.7"/><path d="M801.2 605.7V538.7"/><path d="M801.0 636.2V578.8"/><path d="M801.3 619.6V567.0"/><path d="M801.0 566.0V506.6"/><path d="M801.3 563.6V500.0"/><path d="M801.5 604.3V539.0"/><path d="M801.7 620.8V564.4"/><path d="M801.4 623.2V546.8"/><path d="M801.8 629.3V568.3"/><path d="M801.9 618.1V560.5"/><path d="M802.4 577.6V499.3"/><path d="M802.2 596.6V514.2"/><path d="M802.7 591.8V510.2"/><path d="M802.5 600.8V522.4"/><path d="M802.0 591.7V522.7"/><path d="M802.8 615.8V554.2"/><path d="M802.3 584.1V511.2"/><path d="M803.2 577.4V520.5"/><path d="M802.9 609.2V537.5"/><path d="M803.3 606.2V552.1"/><path d="M803.7 613.8V561.4"/><path d="M803.4 624.6V572.8"/><path d="M803.5 578.3V515.3"/><path d="M803.9 603.6V529.3"/><path d="M803.0 608.7V531.7"/><path d="M803.8 616.8V572.3"/><path d="M804.0 624.9V575.1"/><path d="M804.0 616.6V571.3"/><path d="M804.2 607.8V534.7"/><path d="M804.4 609.3V527.7"/><path d="M804.7 614.7V568.1"/><path d="M804.8 605.9V552.6"/><path d="M805.0 589.9V529.3"/><path d="M805.6 612.3V557.5"/><path d="M805.5 576.8V516.7"/><path d="M804.9 559.5V504.7"/><path d="M805.4 621.6V545.8"/><path d="M806.0 596.9V544.1"/><path d="M805.3 576.4V518.6"/><path d="M806.1 605.1V565.7"/><path d="M805.8 606.1V559.1"/><path d="M805.9 577.0V516.8"/><path d="M806.3 617.3V534.8"/><path d="M806.8 610.7V551.6"/><path d="M806.5 584.4V518.0"/><path d="M807.0 570.1V513.7"/><path d="M806.5 607.5V577.5"/><path d="M807.4 572.9V491.4"/><path d="M807.3 601.0V523.7"/><path d="M806.9 561.9V507.7"/><path d="M806.6 610.0V555.2"/><path d="M807.3 605.8V541.8"/><path d="M807.5 592.6V517.6"/><path d="M807.3 549.3V499.9"/><path d="M807.6 579.7V523.6"/><path d="M807.3 604.5V555.1"/><path d="M807.1 581.7V520.3"/><path d="M807.9 563.6V505.5"/><path d="M807.8 577.7V497.2"/><path d="M808.0 564.9V504.7"/><path d="M808.3 557.6V501.4"/><path d="M808.3 566.6V510.4"/><path d="M809.2 570.1V513.9"/><path d="M808.3 576.1V515.9"/><path d="M809.2 578.8V525.2"/><path d="M808.3 588.2V523.8"/><path d="M809.2 589.9V535.1"/><path d="M808.3 602.5V570.3"/></g><g fill="#5153ff" stroke="#000000" stroke-width="0.55"><circle cx="781.0" cy="630.0" r="3.55"/><circle cx="781.0" cy="646.0" r="3.55"/><circle cx="781.0" cy="637.0" r="3.55"/><circle cx="781.0" cy="655.0" r="3.55"/><circle cx="782.4" cy="636.3" r="3.55"/><circle cx="782.0" cy="619.0" r="3.55"/><circle cx="782.6" cy="654.3" r="3.55"/><circle cx="782.5" cy="664.0" r="3.55"/><circle cx="782.8" cy="649.3" r="3.55"/><circle cx="783.3" cy="630.0" r="3.55"/><circle cx="783.0" cy="606.0" r="3.55"/><circle cx="782.5" cy="651.2" r="3.55"/><circle cx="782.9" cy="647.9" r="3.55"/><circle cx="783.6" cy="653.9" r="3.55"/><circle cx="783.4" cy="646.0" r="3.55"/><circle cx="783.0" cy="621.4" r="3.55"/><circle cx="783.8" cy="645.8" r="3.55"/><circle cx="783.9" cy="607.9" r="3.55"/><circle cx="784.0" cy="622.6" r="3.55"/><circle cx="784.1" cy="616.5" r="3.55"/><circle cx="784.3" cy="627.6" r="3.55"/><circle cx="784.4" cy="639.9" r="3.55"/><circle cx="784.4" cy="595.1" r="3.55"/><circle cx="785.0" cy="609.8" r="3.55"/><circle cx="784.6" cy="621.5" r="3.55"/><circle cx="785.3" cy="644.4" r="3.55"/><circle cx="785.4" cy="634.8" r="3.55"/><circle cx="784.9" cy="654.3" r="3.55"/><circle cx="785.6" cy="623.4" r="3.55"/><circle cx="785.9" cy="607.6" r="3.55"/><circle cx="785.5" cy="640.7" r="3.55"/><circle cx="785.8" cy="659.5" r="3.55"/><circle cx="786.1" cy="674.5" r="3.55"/><circle cx="786.3" cy="643.3" r="3.55"/><circle cx="786.0" cy="619.1" r="3.55"/><circle cx="787.0" cy="635.6" r="3.55"/><circle cx="786.8" cy="673.4" r="3.55"/><circle cx="786.6" cy="608.5" r="3.55"/><circle cx="787.0" cy="679.0" r="3.55"/><circle cx="787.2" cy="617.7" r="3.55"/><circle cx="787.5" cy="661.8" r="3.55"/><circle cx="787.4" cy="668.8" r="3.55"/><circle cx="788.0" cy="647.1" r="3.55"/><circle cx="788.1" cy="606.1" r="3.55"/><circle cx="787.6" cy="624.3" r="3.55"/><circle cx="788.0" cy="688.0" r="3.55"/><circle cx="788.0" cy="700.0" r="3.55"/><circle cx="787.9" cy="669.6" r="3.55"/><circle cx="788.6" cy="617.5" r="3.55"/><circle cx="788.5" cy="642.5" r="3.55"/><circle cx="789.0" cy="621.1" r="3.55"/><circle cx="788.7" cy="621.2" r="3.55"/><circle cx="788.2" cy="631.2" r="3.55"/><circle cx="788.9" cy="617.7" r="3.55"/><circle cx="788.4" cy="625.0" r="3.55"/><circle cx="789.2" cy="610.5" r="3.55"/><circle cx="789.4" cy="646.7" r="3.55"/><circle cx="789.1" cy="679.2" r="3.55"/><circle cx="789.0" cy="695.0" r="3.55"/><circle cx="789.6" cy="645.2" r="3.55"/><circle cx="789.7" cy="640.8" r="3.55"/><circle cx="789.5" cy="671.1" r="3.55"/><circle cx="790.0" cy="677.0" r="3.55"/><circle cx="789.9" cy="615.0" r="3.55"/><circle cx="790.2" cy="665.6" r="3.55"/><circle cx="790.5" cy="625.6" r="3.55"/><circle cx="790.1" cy="623.0" r="3.55"/><circle cx="790.4" cy="617.2" r="3.55"/><circle cx="791.0" cy="665.4" r="3.55"/><circle cx="790.9" cy="652.4" r="3.55"/><circle cx="791.1" cy="633.7" r="3.55"/><circle cx="790.6" cy="629.9" r="3.55"/><circle cx="791.2" cy="617.1" r="3.55"/><circle cx="791.4" cy="604.0" r="3.55"/><circle cx="791.7" cy="628.1" r="3.55"/><circle cx="791.5" cy="672.0" r="3.55"/><circle cx="792.2" cy="604.9" r="3.55"/><circle cx="791.6" cy="618.8" r="3.55"/><circle cx="791.5" cy="647.4" r="3.55"/><circle cx="792.1" cy="604.3" r="3.55"/><circle cx="792.6" cy="659.9" r="3.55"/><circle cx="793.3" cy="662.6" r="3.55"/><circle cx="792.7" cy="660.8" r="3.55"/><circle cx="793.0" cy="596.3" r="3.55"/><circle cx="793.1" cy="627.7" r="3.55"/><circle cx="793.5" cy="617.1" r="3.55"/><circle cx="793.8" cy="597.6" r="3.55"/><circle cx="794.0" cy="649.0" r="3.55"/><circle cx="794.0" cy="640.8" r="3.55"/><circle cx="793.7" cy="593.8" r="3.55"/><circle cx="793.0" cy="612.8" r="3.55"/><circle cx="794.1" cy="639.6" r="3.55"/><circle cx="794.3" cy="643.9" r="3.55"/><circle cx="794.2" cy="609.3" r="3.55"/><circle cx="794.6" cy="609.2" r="3.55"/><circle cx="794.0" cy="663.0" r="3.55"/><circle cx="794.8" cy="592.4" r="3.55"/><circle cx="795.3" cy="615.4" r="3.55"/><circle cx="795.1" cy="625.8" r="3.55"/><circle cx="794.7" cy="643.5" r="3.55"/><circle cx="795.7" cy="598.5" r="3.55"/><circle cx="795.5" cy="639.1" r="3.55"/><circle cx="795.3" cy="576.8" r="3.55"/><circle cx="795.3" cy="585.0" r="3.55"/><circle cx="796.0" cy="629.0" r="3.55"/><circle cx="795.6" cy="589.0" r="3.55"/><circle cx="795.8" cy="589.4" r="3.55"/><circle cx="796.2" cy="588.6" r="3.55"/><circle cx="796.4" cy="640.4" r="3.55"/><circle cx="796.1" cy="626.7" r="3.55"/><circle cx="796.3" cy="577.1" r="3.55"/><circle cx="796.9" cy="583.7" r="3.55"/><circle cx="797.1" cy="614.0" r="3.55"/><circle cx="796.8" cy="589.2" r="3.55"/><circle cx="796.6" cy="601.9" r="3.55"/><circle cx="797.0" cy="619.0" r="3.55"/><circle cx="796.7" cy="606.1" r="3.55"/><circle cx="798.3" cy="562.5" r="3.55"/><circle cx="797.4" cy="585.0" r="3.55"/><circle cx="797.7" cy="583.4" r="3.55"/><circle cx="797.5" cy="640.0" r="3.55"/><circle cx="798.1" cy="613.1" r="3.55"/><circle cx="797.6" cy="591.2" r="3.55"/><circle cx="798.2" cy="605.5" r="3.55"/><circle cx="797.8" cy="582.5" r="3.55"/><circle cx="798.8" cy="596.8" r="3.55"/><circle cx="798.4" cy="600.3" r="3.55"/><circle cx="798.6" cy="605.4" r="3.55"/><circle cx="799.3" cy="576.4" r="3.55"/><circle cx="799.0" cy="552.0" r="3.55"/><circle cx="799.4" cy="597.5" r="3.55"/><circle cx="799.8" cy="603.7" r="3.55"/><circle cx="799.1" cy="568.5" r="3.55"/><circle cx="799.8" cy="542.3" r="3.55"/><circle cx="799.7" cy="563.5" r="3.55"/><circle cx="799.2" cy="563.2" r="3.55"/><circle cx="799.6" cy="607.8" r="3.55"/><circle cx="800.2" cy="596.2" r="3.55"/><circle cx="800.1" cy="598.7" r="3.55"/><circle cx="799.9" cy="564.4" r="3.55"/><circle cx="800.6" cy="582.9" r="3.55"/><circle cx="800.4" cy="565.3" r="3.55"/><circle cx="800.8" cy="574.4" r="3.55"/><circle cx="800.9" cy="607.1" r="3.55"/><circle cx="800.7" cy="574.6" r="3.55"/><circle cx="800.3" cy="571.9" r="3.55"/><circle cx="801.2" cy="572.2" r="3.55"/><circle cx="801.0" cy="607.5" r="3.55"/><circle cx="801.3" cy="593.3" r="3.55"/><circle cx="801.0" cy="536.3" r="3.55"/><circle cx="801.3" cy="531.8" r="3.55"/><circle cx="801.5" cy="571.7" r="3.55"/><circle cx="801.7" cy="592.6" r="3.55"/><circle cx="801.4" cy="585.0" r="3.55"/><circle cx="801.8" cy="598.8" r="3.55"/><circle cx="801.9" cy="589.3" r="3.55"/><circle cx="802.4" cy="538.4" r="3.55"/><circle cx="802.2" cy="555.4" r="3.55"/><circle cx="802.7" cy="551.0" r="3.55"/><circle cx="802.5" cy="561.6" r="3.55"/><circle cx="802.0" cy="557.2" r="3.55"/><circle cx="802.8" cy="585.0" r="3.55"/><circle cx="802.3" cy="547.7" r="3.55"/><circle cx="803.2" cy="549.0" r="3.55"/><circle cx="802.9" cy="573.3" r="3.55"/><circle cx="803.3" cy="579.1" r="3.55"/><circle cx="803.7" cy="587.6" r="3.55"/><circle cx="803.4" cy="598.7" r="3.55"/><circle cx="803.5" cy="546.8" r="3.55"/><circle cx="803.9" cy="566.4" r="3.55"/><circle cx="803.0" cy="570.2" r="3.55"/><circle cx="803.8" cy="594.5" r="3.55"/><circle cx="804.0" cy="600.0" r="3.55"/><circle cx="804.0" cy="594.0" r="3.55"/><circle cx="804.2" cy="571.2" r="3.55"/><circle cx="804.4" cy="568.5" r="3.55"/><circle cx="804.7" cy="591.4" r="3.55"/><circle cx="804.8" cy="579.3" r="3.55"/><circle cx="805.0" cy="559.6" r="3.55"/><circle cx="805.6" cy="584.9" r="3.55"/><circle cx="805.5" cy="546.7" r="3.55"/><circle cx="804.9" cy="532.1" r="3.55"/><circle cx="805.4" cy="583.7" r="3.55"/><circle cx="806.0" cy="570.5" r="3.55"/><circle cx="805.3" cy="547.5" r="3.55"/><circle cx="806.1" cy="585.4" r="3.55"/><circle cx="805.8" cy="582.6" r="3.55"/><circle cx="805.9" cy="546.9" r="3.55"/><circle cx="806.3" cy="576.1" r="3.55"/><circle cx="806.8" cy="581.1" r="3.55"/><circle cx="806.5" cy="551.2" r="3.55"/><circle cx="807.0" cy="541.9" r="3.55"/><circle cx="806.5" cy="592.5" r="3.55"/><circle cx="807.4" cy="532.1" r="3.55"/><circle cx="807.3" cy="562.3" r="3.55"/><circle cx="806.9" cy="534.8" r="3.55"/><circle cx="806.6" cy="582.6" r="3.55"/><circle cx="807.3" cy="573.8" r="3.55"/><circle cx="807.5" cy="555.1" r="3.55"/><circle cx="807.3" cy="524.6" r="3.55"/><circle cx="807.6" cy="551.7" r="3.55"/><circle cx="807.3" cy="579.8" r="3.55"/><circle cx="807.1" cy="551.0" r="3.55"/><circle cx="807.9" cy="534.6" r="3.55"/><circle cx="807.8" cy="537.5" r="3.55"/><circle cx="808.0" cy="534.8" r="3.55"/></g><g fill="#ff0000" stroke="#000000" stroke-width="0.55"><circle cx="808.3" cy="529.5" r="3.55"/><circle cx="808.3" cy="538.5" r="3.55"/><circle cx="809.2" cy="542.0" r="3.55"/><circle cx="808.3" cy="546.0" r="3.55"/><circle cx="809.2" cy="552.0" r="3.55"/><circle cx="808.3" cy="556.0" r="3.55"/><circle cx="809.2" cy="562.5" r="3.55"/><circle cx="808.3" cy="586.4" r="3.55"/></g></g><g fill="#2a2a2a"><rect x="116" y="469" width="2" height="274"/><rect x="843" y="469" width="2" height="274"/><rect x="116" y="469" width="729" height="2"/><rect x="116" y="741" width="729" height="2"/><rect x="107" y="714" width="9" height="2"/><rect x="107" y="659" width="9" height="2"/><rect x="107" y="605" width="9" height="2"/><rect x="107" y="551" width="9" height="2"/><rect x="107" y="496" width="9" height="2"/><rect x="116" y="743" width="2" height="9"/><rect x="162" y="743" width="2" height="9"/><rect x="207" y="743" width="2" height="9"/><rect x="252" y="743" width="2" height="9"/><rect x="298" y="743" width="2" height="9"/><rect x="343" y="743" width="2" height="9"/><rect x="389" y="743" width="2" height="9"/><rect x="434" y="743" width="2" height="9"/><rect x="479" y="743" width="2" height="9"/><rect x="525" y="743" width="2" height="9"/><rect x="570" y="743" width="2" height="9"/><rect x="616" y="743" width="2" height="9"/><rect x="661" y="743" width="2" height="9"/><rect x="706" y="743" width="2" height="9"/><rect x="752" y="743" width="2" height="9"/><rect x="797" y="743" width="2" height="9"/><rect x="843" y="743" width="2" height="9"/></g><g fill="#000"><rect x="113.5" y="687.875" width="3.7" height="1.25"/><rect x="113.5" y="632.875" width="3.7" height="1.25"/><rect x="113.5" y="578.875" width="3.7" height="1.25"/><rect x="113.5" y="523.875" width="3.7" height="1.25"/><rect x="113.5" y="469.875" width="3.7" height="1.25"/><rect x="120.875" y="742" width="1.25" height="4.5"/><rect x="124.875" y="742" width="1.25" height="4.5"/><rect x="127.875" y="742" width="1.25" height="4.5"/><rect x="131.875" y="742" width="1.25" height="4.5"/><rect x="135.875" y="742" width="1.25" height="4.5"/><rect x="139.875" y="742" width="1.25" height="4.5"/><rect x="143.875" y="742" width="1.25" height="4.5"/><rect x="146.875" y="742" width="1.25" height="4.5"/><rect x="150.875" y="742" width="1.25" height="4.5"/><rect x="154.875" y="742" width="1.25" height="4.5"/><rect x="158.875" y="742" width="1.25" height="4.5"/><rect x="165.875" y="742" width="1.25" height="4.5"/><rect x="169.875" y="742" width="1.25" height="4.5"/><rect x="173.875" y="742" width="1.25" height="4.5"/><rect x="177.875" y="742" width="1.25" height="4.5"/><rect x="180.875" y="742" width="1.25" height="4.5"/><rect x="184.875" y="742" width="1.25" height="4.5"/><rect x="188.875" y="742" width="1.25" height="4.5"/><rect x="192.875" y="742" width="1.25" height="4.5"/><rect x="196.875" y="742" width="1.25" height="4.5"/><rect x="199.875" y="742" width="1.25" height="4.5"/><rect x="203.875" y="742" width="1.25" height="4.5"/><rect x="211.875" y="742" width="1.25" height="4.5"/><rect x="214.875" y="742" width="1.25" height="4.5"/><rect x="218.875" y="742" width="1.25" height="4.5"/><rect x="222.875" y="742" width="1.25" height="4.5"/><rect x="226.875" y="742" width="1.25" height="4.5"/><rect x="230.875" y="742" width="1.25" height="4.5"/><rect x="233.875" y="742" width="1.25" height="4.5"/><rect x="237.875" y="742" width="1.25" height="4.5"/><rect x="241.875" y="742" width="1.25" height="4.5"/><rect x="245.875" y="742" width="1.25" height="4.5"/><rect x="249.875" y="742" width="1.25" height="4.5"/><rect x="256.875" y="742" width="1.25" height="4.5"/><rect x="260.875" y="742" width="1.25" height="4.5"/><rect x="264.875" y="742" width="1.25" height="4.5"/><rect x="267.875" y="742" width="1.25" height="4.5"/><rect x="271.875" y="742" width="1.25" height="4.5"/><rect x="275.875" y="742" width="1.25" height="4.5"/><rect x="279.875" y="742" width="1.25" height="4.5"/><rect x="283.875" y="742" width="1.25" height="4.5"/><rect x="286.875" y="742" width="1.25" height="4.5"/><rect x="290.875" y="742" width="1.25" height="4.5"/><rect x="294.875" y="742" width="1.25" height="4.5"/><rect x="302.875" y="742" width="1.25" height="4.5"/><rect x="305.875" y="742" width="1.25" height="4.5"/><rect x="309.875" y="742" width="1.25" height="4.5"/><rect x="313.875" y="742" width="1.25" height="4.5"/><rect x="317.875" y="742" width="1.25" height="4.5"/><rect x="320.875" y="742" width="1.25" height="4.5"/><rect x="324.875" y="742" width="1.25" height="4.5"/><rect x="328.875" y="742" width="1.25" height="4.5"/><rect x="332.875" y="742" width="1.25" height="4.5"/><rect x="336.875" y="742" width="1.25" height="4.5"/><rect x="339.875" y="742" width="1.25" height="4.5"/><rect x="347.875" y="742" width="1.25" height="4.5"/><rect x="351.875" y="742" width="1.25" height="4.5"/><rect x="355.875" y="742" width="1.25" height="4.5"/><rect x="358.875" y="742" width="1.25" height="4.5"/><rect x="362.875" y="742" width="1.25" height="4.5"/><rect x="366.875" y="742" width="1.25" height="4.5"/><rect x="370.875" y="742" width="1.25" height="4.5"/><rect x="374.875" y="742" width="1.25" height="4.5"/><rect x="377.875" y="742" width="1.25" height="4.5"/><rect x="381.875" y="742" width="1.25" height="4.5"/><rect x="385.875" y="742" width="1.25" height="4.5"/><rect x="393.875" y="742" width="1.25" height="4.5"/><rect x="396.875" y="742" width="1.25" height="4.5"/><rect x="400.875" y="742" width="1.25" height="4.5"/><rect x="404.875" y="742" width="1.25" height="4.5"/><rect x="407.875" y="742" width="1.25" height="4.5"/><rect x="411.875" y="742" width="1.25" height="4.5"/><rect x="415.875" y="742" width="1.25" height="4.5"/><rect x="419.875" y="742" width="1.25" height="4.5"/><rect x="423.875" y="742" width="1.25" height="4.5"/><rect x="427.875" y="742" width="1.25" height="4.5"/><rect x="430.875" y="742" width="1.25" height="4.5"/><rect x="438.875" y="742" width="1.25" height="4.5"/><rect x="441.875" y="742" width="1.25" height="4.5"/><rect x="445.875" y="742" width="1.25" height="4.5"/><rect x="449.875" y="742" width="1.25" height="4.5"/><rect x="453.875" y="742" width="1.25" height="4.5"/><rect x="457.875" y="742" width="1.25" height="4.5"/><rect x="460.875" y="742" width="1.25" height="4.5"/><rect x="464.875" y="742" width="1.25" height="4.5"/><rect x="468.875" y="742" width="1.25" height="4.5"/><rect x="472.875" y="742" width="1.25" height="4.5"/><rect x="476.875" y="742" width="1.25" height="4.5"/><rect x="483.875" y="742" width="1.25" height="4.5"/><rect x="487.875" y="742" width="1.25" height="4.5"/><rect x="491.875" y="742" width="1.25" height="4.5"/><rect x="494.875" y="742" width="1.25" height="4.5"/><rect x="498.875" y="742" width="1.25" height="4.5"/><rect x="502.875" y="742" width="1.25" height="4.5"/><rect x="506.875" y="742" width="1.25" height="4.5"/><rect x="510.875" y="742" width="1.25" height="4.5"/><rect x="513.875" y="742" width="1.25" height="4.5"/><rect x="517.875" y="742" width="1.25" height="4.5"/><rect x="521.875" y="742" width="1.25" height="4.5"/><rect x="529.875" y="742" width="1.25" height="4.5"/><rect x="532.875" y="742" width="1.25" height="4.5"/><rect x="536.875" y="742" width="1.25" height="4.5"/><rect x="540.875" y="742" width="1.25" height="4.5"/><rect x="544.875" y="742" width="1.25" height="4.5"/><rect x="547.875" y="742" width="1.25" height="4.5"/><rect x="551.875" y="742" width="1.25" height="4.5"/><rect x="555.875" y="742" width="1.25" height="4.5"/><rect x="559.875" y="742" width="1.25" height="4.5"/><rect x="563.875" y="742" width="1.25" height="4.5"/><rect x="566.875" y="742" width="1.25" height="4.5"/><rect x="574.875" y="742" width="1.25" height="4.5"/><rect x="578.875" y="742" width="1.25" height="4.5"/><rect x="582.875" y="742" width="1.25" height="4.5"/><rect x="585.875" y="742" width="1.25" height="4.5"/><rect x="589.875" y="742" width="1.25" height="4.5"/><rect x="593.875" y="742" width="1.25" height="4.5"/><rect x="597.875" y="742" width="1.25" height="4.5"/><rect x="601.875" y="742" width="1.25" height="4.5"/><rect x="604.875" y="742" width="1.25" height="4.5"/><rect x="608.875" y="742" width="1.25" height="4.5"/><rect x="612.875" y="742" width="1.25" height="4.5"/><rect x="620.875" y="742" width="1.25" height="4.5"/><rect x="623.875" y="742" width="1.25" height="4.5"/><rect x="627.875" y="742" width="1.25" height="4.5"/><rect x="631.875" y="742" width="1.25" height="4.5"/><rect x="635.875" y="742" width="1.25" height="4.5"/><rect x="638.875" y="742" width="1.25" height="4.5"/><rect x="642.875" y="742" width="1.25" height="4.5"/><rect x="646.875" y="742" width="1.25" height="4.5"/><rect x="650.875" y="742" width="1.25" height="4.5"/><rect x="654.875" y="742" width="1.25" height="4.5"/><rect x="657.875" y="742" width="1.25" height="4.5"/><rect x="665.875" y="742" width="1.25" height="4.5"/><rect x="668.875" y="742" width="1.25" height="4.5"/><rect x="672.875" y="742" width="1.25" height="4.5"/><rect x="676.875" y="742" width="1.25" height="4.5"/><rect x="680.875" y="742" width="1.25" height="4.5"/><rect x="684.875" y="742" width="1.25" height="4.5"/><rect x="687.875" y="742" width="1.25" height="4.5"/><rect x="691.875" y="742" width="1.25" height="4.5"/><rect x="695.875" y="742" width="1.25" height="4.5"/><rect x="699.875" y="742" width="1.25" height="4.5"/><rect x="703.875" y="742" width="1.25" height="4.5"/><rect x="710.875" y="742" width="1.25" height="4.5"/><rect x="714.875" y="742" width="1.25" height="4.5"/><rect x="718.875" y="742" width="1.25" height="4.5"/><rect x="722.875" y="742" width="1.25" height="4.5"/><rect x="725.875" y="742" width="1.25" height="4.5"/><rect x="729.875" y="742" width="1.25" height="4.5"/><rect x="733.875" y="742" width="1.25" height="4.5"/><rect x="737.875" y="742" width="1.25" height="4.5"/><rect x="741.875" y="742" width="1.25" height="4.5"/><rect x="744.875" y="742" width="1.25" height="4.5"/><rect x="748.875" y="742" width="1.25" height="4.5"/><rect x="756.875" y="742" width="1.25" height="4.5"/><rect x="759.875" y="742" width="1.25" height="4.5"/><rect x="763.875" y="742" width="1.25" height="4.5"/><rect x="767.875" y="742" width="1.25" height="4.5"/><rect x="771.875" y="742" width="1.25" height="4.5"/><rect x="774.875" y="742" width="1.25" height="4.5"/><rect x="778.875" y="742" width="1.25" height="4.5"/><rect x="782.875" y="742" width="1.25" height="4.5"/><rect x="786.875" y="742" width="1.25" height="4.5"/><rect x="790.875" y="742" width="1.25" height="4.5"/><rect x="794.875" y="742" width="1.25" height="4.5"/><rect x="801.875" y="742" width="1.25" height="4.5"/><rect x="805.875" y="742" width="1.25" height="4.5"/><rect x="809.875" y="742" width="1.25" height="4.5"/><rect x="812.875" y="742" width="1.25" height="4.5"/><rect x="816.875" y="742" width="1.25" height="4.5"/><rect x="820.875" y="742" width="1.25" height="4.5"/><rect x="824.875" y="742" width="1.25" height="4.5"/><rect x="828.875" y="742" width="1.25" height="4.5"/><rect x="831.875" y="742" width="1.25" height="4.5"/><rect x="835.875" y="742" width="1.25" height="4.5"/><rect x="839.875" y="742" width="1.25" height="4.5"/></g><g clip-path="url(#c2)"><g stroke="#808080" stroke-opacity="0.3" stroke-width="2.08"><path d="M780.7 933.1V860.3"/><path d="M780.7 940.9V876.5"/><path d="M781.3 970.5V876.1"/><path d="M782.8 942.2V829.8"/><path d="M782.4 959.3V849.9"/><path d="M782.0 930.8V837.8"/><path d="M782.6 955.4V870.9"/><path d="M782.9 938.4V823.8"/><path d="M782.5 950.7V853.7"/><path d="M783.1 937.1V823.6"/><path d="M783.0 951.2V852.7"/><path d="M783.3 922.5V823.5"/><path d="M783.3 979.6V880.4"/><path d="M783.8 950.2V883.2"/><path d="M783.5 910.2V836.0"/><path d="M783.3 949.3V885.6"/><path d="M783.4 976.9V864.6"/><path d="M784.0 968.4V852.7"/><path d="M783.9 957.5V863.6"/><path d="M784.6 968.3V899.6"/><path d="M784.3 896.7V829.7"/><path d="M784.5 947.3V862.4"/><path d="M784.4 945.2V863.3"/><path d="M784.1 957.7V886.7"/><path d="M784.7 890.2V825.2"/><path d="M784.9 920.0V823.8"/><path d="M785.0 931.8V827.5"/><path d="M785.1 942.4V878.8"/><path d="M785.3 882.0V804.6"/><path d="M785.3 889.4V812.6"/><path d="M785.4 979.5V889.1"/><path d="M786.0 976.2V882.4"/><path d="M786.0 872.2V789.2"/><path d="M786.1 912.4V803.9"/><path d="M786.4 883.1V801.2"/><path d="M786.5 886.9V809.9"/><path d="M786.8 943.8V840.9"/><path d="M786.6 932.3V825.1"/><path d="M786.3 953.9V844.8"/><path d="M786.9 974.0V904.6"/><path d="M787.6 969.7V898.6"/><path d="M787.3 986.3V900.3"/><path d="M787.2 969.2V855.0"/><path d="M787.3 1002.1V907.3"/><path d="M787.9 904.9V810.0"/><path d="M787.4 963.7V885.4"/><path d="M788.0 1003.5V888.1"/><path d="M788.1 866.6V796.3"/><path d="M788.2 995.2V903.9"/><path d="M788.4 884.5V786.7"/><path d="M788.6 971.9V866.5"/><path d="M788.7 938.3V832.7"/><path d="M788.5 985.9V904.2"/><path d="M788.9 926.9V851.7"/><path d="M789.0 926.3V811.5"/><path d="M789.1 952.7V861.7"/><path d="M789.5 914.5V838.7"/><path d="M789.2 898.7V830.9"/><path d="M789.9 963.6V858.6"/><path d="M789.6 967.0V859.4"/><path d="M789.7 881.2V789.3"/><path d="M790.0 1003.7V922.2"/><path d="M790.1 945.3V848.3"/><path d="M790.4 1011.8V896.9"/><path d="M790.0 1012.2V919.8"/><path d="M790.5 902.6V798.6"/><path d="M790.2 882.9V780.7"/><path d="M791.0 935.4V833.0"/><path d="M790.9 1024.3V937.1"/><path d="M790.5 1001.8V931.8"/><path d="M790.6 978.8V879.7"/><path d="M790.7 876.2V789.9"/><path d="M791.2 945.8V831.9"/><path d="M791.3 872.0V803.4"/><path d="M791.5 985.4V919.0"/><path d="M791.1 886.0V790.4"/><path d="M792.0 904.5V798.1"/><path d="M792.0 893.4V829.2"/><path d="M792.5 984.2V889.8"/><path d="M792.3 968.4V893.5"/><path d="M792.7 943.7V827.7"/><path d="M792.2 999.7V919.5"/><path d="M793.3 866.6V802.0"/><path d="M793.2 939.2V835.4"/><path d="M793.0 985.0V908.1"/><path d="M792.6 933.1V849.6"/><path d="M793.3 997.2V929.9"/><path d="M793.1 944.0V865.5"/><path d="M793.7 991.2V923.7"/><path d="M793.5 939.0V864.6"/><path d="M794.0 917.2V824.8"/><path d="M793.8 929.5V852.7"/><path d="M793.3 867.6V781.0"/><path d="M794.2 949.3V838.9"/><path d="M794.1 937.8V845.5"/><path d="M794.0 981.3V919.7"/><path d="M793.6 958.0V844.2"/><path d="M794.3 949.9V878.9"/><path d="M794.5 977.7V898.4"/><path d="M794.6 934.0V844.6"/><path d="M794.8 946.1V851.4"/><path d="M795.0 1013.9V934.8"/><path d="M795.2 927.2V842.6"/><path d="M795.3 1027.3V932.2"/><path d="M795.8 987.2V901.6"/><path d="M796.3 1023.9V948.1"/><path d="M796.0 958.4V875.4"/><path d="M796.2 968.2V886.7"/><path d="M796.1 1001.3V925.0"/><path d="M796.4 949.3V857.1"/><path d="M796.3 990.8V902.1"/><path d="M796.8 1011.4V928.4"/><path d="M796.6 944.1V853.7"/><path d="M797.2 931.0V857.1"/><path d="M797.1 973.9V877.6"/><path d="M797.3 910.7V852.7"/><path d="M797.2 1050.4V938.0"/><path d="M796.7 999.2V933.4"/><path d="M797.3 888.8V859.8"/><path d="M797.4 1022.7V939.1"/><path d="M797.6 1009.7V927.5"/><path d="M797.7 915.4V858.3"/><path d="M797.9 1030.7V934.0"/><path d="M797.3 927.1V845.9"/><path d="M798.1 1068.4V961.6"/><path d="M797.8 962.9V896.4"/><path d="M798.3 990.3V902.1"/><path d="M798.2 958.0V855.0"/><path d="M798.4 930.2V865.5"/><path d="M798.7 948.5V858.2"/><path d="M799.1 993.2V877.6"/><path d="M799.4 995.0V921.6"/><path d="M798.9 993.1V926.6"/><path d="M799.2 1007.9V931.7"/><path d="M799.8 944.6V865.3"/><path d="M800.4 977.1V901.1"/><path d="M799.7 1024.7V940.5"/><path d="M799.9 1004.3V897.6"/><path d="M799.9 1051.3V962.3"/><path d="M800.2 964.5V871.5"/><path d="M800.7 966.7V900.6"/><path d="M800.9 971.3V907.7"/><path d="M800.3 1012.7V899.4"/><path d="M800.6 923.1V850.4"/><path d="M801.2 1053.1V940.0"/><path d="M801.0 1026.9V948.1"/><path d="M800.8 1046.6V950.8"/><path d="M801.4 1001.6V904.6"/><path d="M800.8 955.0V890.0"/><path d="M801.9 922.6V858.7"/><path d="M801.3 1066.2V1012.4"/><path d="M801.5 1013.7V946.6"/><path d="M801.8 948.5V871.9"/><path d="M801.3 965.7V894.7"/><path d="M802.0 982.3V904.8"/><path d="M802.3 985.2V899.7"/><path d="M802.2 975.5V898.0"/><path d="M802.7 961.3V882.5"/><path d="M802.4 1039.4V952.2"/><path d="M802.8 960.7V862.4"/><path d="M802.9 1005.0V942.7"/><path d="M803.0 1038.6V922.8"/><path d="M803.5 967.9V883.8"/><path d="M803.3 1009.5V897.8"/><path d="M803.7 992.1V931.7"/><path d="M803.4 1019.6V956.4"/><path d="M803.5 1069.6V1005.4"/><path d="M804.3 934.9V823.7"/><path d="M804.0 1041.7V958.6"/><path d="M803.2 988.6V881.2"/><path d="M803.5 1059.4V960.6"/><path d="M804.2 974.1V909.2"/><path d="M804.3 884.7V805.9"/><path d="M804.3 978.1V899.5"/><path d="M805.0 993.8V908.4"/><path d="M803.9 989.2V887.0"/><path d="M804.5 933.2V868.5"/><path d="M804.3 917.2V805.4"/><path d="M805.2 944.0V857.3"/><path d="M805.3 952.2V871.8"/><path d="M805.6 1023.5V924.4"/><path d="M805.3 942.4V867.0"/><path d="M804.9 960.6V860.7"/><path d="M805.4 962.4V879.1"/><path d="M805.9 971.9V885.1"/><path d="M805.3 905.6V835.0"/><path d="M806.4 1010.3V938.9"/><path d="M806.3 996.4V888.1"/><path d="M806.0 975.0V882.7"/><path d="M807.0 969.3V885.6"/><path d="M806.1 975.6V872.2"/><path d="M806.9 1016.6V905.5"/><path d="M806.5 1007.6V938.7"/><path d="M806.7 995.2V879.4"/><path d="M807.1 1017.4V956.6"/><path d="M807.3 919.8V864.8"/><path d="M806.7 980.7V905.9"/><path d="M806.6 996.4V922.2"/><path d="M807.3 1010.8V923.1"/><path d="M807.6 1072.2V978.4"/><path d="M807.3 964.9V880.5"/><path d="M807.5 1027.8V927.8"/><path d="M807.1 1017.4V904.2"/><path d="M807.4 1003.4V933.9"/><path d="M807.9 1011.7V938.4"/><path d="M808.0 1022.4V928.2"/><path d="M809.3 973.3V886.7"/><path d="M808.3 990.6V909.4"/><path d="M808.7 986.6V921.4"/><path d="M808.9 1011.5V922.9"/><path d="M808.9 1003.2V935.8"/><path d="M808.9 1036.2V955.8"/><path d="M808.9 1040.0V959.2"/><path d="M808.0 1055.9V968.7"/></g><g fill="#5153ff" stroke="#000000" stroke-width="0.55"><circle cx="780.7" cy="896.7" r="3.55"/><circle cx="780.7" cy="908.7" r="3.55"/><circle cx="781.3" cy="923.3" r="3.55"/><circle cx="782.8" cy="886.0" r="3.55"/><circle cx="782.4" cy="904.6" r="3.55"/><circle cx="782.0" cy="884.3" r="3.55"/><circle cx="782.6" cy="913.2" r="3.55"/><circle cx="782.9" cy="881.1" r="3.55"/><circle cx="782.5" cy="902.2" r="3.55"/><circle cx="783.1" cy="880.4" r="3.55"/><circle cx="783.0" cy="901.9" r="3.55"/><circle cx="783.3" cy="873.0" r="3.55"/><circle cx="783.3" cy="930.0" r="3.55"/><circle cx="783.8" cy="916.7" r="3.55"/><circle cx="783.5" cy="873.1" r="3.55"/><circle cx="783.3" cy="917.5" r="3.55"/><circle cx="783.4" cy="920.8" r="3.55"/><circle cx="784.0" cy="910.6" r="3.55"/><circle cx="783.9" cy="910.6" r="3.55"/><circle cx="784.6" cy="933.9" r="3.55"/><circle cx="784.3" cy="863.2" r="3.55"/><circle cx="784.5" cy="904.8" r="3.55"/><circle cx="784.4" cy="904.2" r="3.55"/><circle cx="784.1" cy="922.2" r="3.55"/><circle cx="784.7" cy="857.7" r="3.55"/><circle cx="784.9" cy="871.9" r="3.55"/><circle cx="785.0" cy="879.6" r="3.55"/><circle cx="785.1" cy="910.6" r="3.55"/><circle cx="785.3" cy="843.3" r="3.55"/><circle cx="785.3" cy="851.0" r="3.55"/><circle cx="785.4" cy="934.3" r="3.55"/><circle cx="786.0" cy="929.3" r="3.55"/><circle cx="786.0" cy="830.7" r="3.55"/><circle cx="786.1" cy="858.1" r="3.55"/><circle cx="786.4" cy="842.2" r="3.55"/><circle cx="786.5" cy="848.4" r="3.55"/><circle cx="786.8" cy="892.3" r="3.55"/><circle cx="786.6" cy="878.7" r="3.55"/><circle cx="786.3" cy="899.4" r="3.55"/><circle cx="786.9" cy="939.3" r="3.55"/><circle cx="787.6" cy="934.2" r="3.55"/><circle cx="787.3" cy="943.3" r="3.55"/><circle cx="787.2" cy="912.1" r="3.55"/><circle cx="787.3" cy="954.7" r="3.55"/><circle cx="787.9" cy="857.5" r="3.55"/><circle cx="787.4" cy="924.5" r="3.55"/><circle cx="788.0" cy="945.8" r="3.55"/><circle cx="788.1" cy="831.4" r="3.55"/><circle cx="788.2" cy="949.6" r="3.55"/><circle cx="788.4" cy="835.6" r="3.55"/><circle cx="788.6" cy="919.2" r="3.55"/><circle cx="788.7" cy="885.5" r="3.55"/><circle cx="788.5" cy="945.1" r="3.55"/><circle cx="788.9" cy="889.3" r="3.55"/><circle cx="789.0" cy="868.9" r="3.55"/><circle cx="789.1" cy="907.2" r="3.55"/><circle cx="789.5" cy="876.6" r="3.55"/><circle cx="789.2" cy="864.8" r="3.55"/><circle cx="789.9" cy="911.1" r="3.55"/><circle cx="789.6" cy="913.2" r="3.55"/><circle cx="789.7" cy="835.3" r="3.55"/><circle cx="790.0" cy="962.9" r="3.55"/><circle cx="790.1" cy="896.8" r="3.55"/><circle cx="790.4" cy="954.4" r="3.55"/><circle cx="790.0" cy="966.0" r="3.55"/><circle cx="790.5" cy="850.6" r="3.55"/><circle cx="790.2" cy="831.8" r="3.55"/><circle cx="791.0" cy="884.2" r="3.55"/><circle cx="790.9" cy="980.7" r="3.55"/><circle cx="790.5" cy="966.8" r="3.55"/><circle cx="790.6" cy="929.3" r="3.55"/><circle cx="790.7" cy="833.0" r="3.55"/><circle cx="791.2" cy="888.9" r="3.55"/><circle cx="791.3" cy="837.7" r="3.55"/><circle cx="791.5" cy="952.2" r="3.55"/><circle cx="791.1" cy="838.2" r="3.55"/><circle cx="792.0" cy="851.3" r="3.55"/><circle cx="792.0" cy="861.3" r="3.55"/><circle cx="792.5" cy="937.0" r="3.55"/><circle cx="792.3" cy="930.9" r="3.55"/><circle cx="792.7" cy="885.7" r="3.55"/><circle cx="792.2" cy="959.6" r="3.55"/><circle cx="793.3" cy="834.3" r="3.55"/><circle cx="793.2" cy="887.3" r="3.55"/><circle cx="793.0" cy="946.6" r="3.55"/><circle cx="792.6" cy="891.3" r="3.55"/><circle cx="793.3" cy="963.6" r="3.55"/><circle cx="793.1" cy="904.7" r="3.55"/><circle cx="793.7" cy="957.4" r="3.55"/><circle cx="793.5" cy="901.8" r="3.55"/><circle cx="794.0" cy="871.0" r="3.55"/><circle cx="793.8" cy="891.1" r="3.55"/><circle cx="793.3" cy="824.3" r="3.55"/><circle cx="794.2" cy="894.1" r="3.55"/><circle cx="794.1" cy="891.6" r="3.55"/><circle cx="794.0" cy="950.5" r="3.55"/><circle cx="793.6" cy="901.1" r="3.55"/><circle cx="794.3" cy="914.4" r="3.55"/><circle cx="794.5" cy="938.0" r="3.55"/><circle cx="794.6" cy="889.3" r="3.55"/><circle cx="794.8" cy="898.7" r="3.55"/><circle cx="795.0" cy="974.4" r="3.55"/><circle cx="795.2" cy="884.9" r="3.55"/><circle cx="795.3" cy="979.7" r="3.55"/><circle cx="795.8" cy="944.4" r="3.55"/><circle cx="796.3" cy="986.0" r="3.55"/><circle cx="796.0" cy="916.9" r="3.55"/><circle cx="796.2" cy="927.4" r="3.55"/><circle cx="796.1" cy="963.2" r="3.55"/><circle cx="796.4" cy="903.2" r="3.55"/><circle cx="796.3" cy="946.5" r="3.55"/><circle cx="796.8" cy="969.9" r="3.55"/><circle cx="796.6" cy="898.9" r="3.55"/><circle cx="797.2" cy="894.1" r="3.55"/><circle cx="797.1" cy="925.8" r="3.55"/><circle cx="797.3" cy="881.7" r="3.55"/><circle cx="797.2" cy="994.2" r="3.55"/><circle cx="796.7" cy="966.3" r="3.55"/><circle cx="797.3" cy="874.3" r="3.55"/><circle cx="797.4" cy="980.9" r="3.55"/><circle cx="797.6" cy="968.6" r="3.55"/><circle cx="797.7" cy="886.9" r="3.55"/><circle cx="797.9" cy="982.3" r="3.55"/><circle cx="797.3" cy="886.5" r="3.55"/><circle cx="798.1" cy="1015.0" r="3.55"/><circle cx="797.8" cy="929.6" r="3.55"/><circle cx="798.3" cy="946.2" r="3.55"/><circle cx="798.2" cy="906.5" r="3.55"/><circle cx="798.4" cy="897.9" r="3.55"/><circle cx="798.7" cy="903.3" r="3.55"/><circle cx="799.1" cy="935.4" r="3.55"/><circle cx="799.4" cy="958.3" r="3.55"/><circle cx="798.9" cy="959.8" r="3.55"/><circle cx="799.2" cy="969.8" r="3.55"/><circle cx="799.8" cy="904.9" r="3.55"/><circle cx="800.4" cy="939.1" r="3.55"/><circle cx="799.7" cy="982.6" r="3.55"/><circle cx="799.9" cy="951.0" r="3.55"/><circle cx="799.9" cy="1006.8" r="3.55"/><circle cx="800.2" cy="918.0" r="3.55"/><circle cx="800.7" cy="933.7" r="3.55"/><circle cx="800.9" cy="939.5" r="3.55"/><circle cx="800.3" cy="956.1" r="3.55"/><circle cx="800.6" cy="886.7" r="3.55"/><circle cx="801.2" cy="996.6" r="3.55"/><circle cx="801.0" cy="987.5" r="3.55"/><circle cx="800.8" cy="998.7" r="3.55"/><circle cx="801.4" cy="953.1" r="3.55"/><circle cx="800.8" cy="922.5" r="3.55"/><circle cx="801.9" cy="890.7" r="3.55"/><circle cx="801.3" cy="1039.3" r="3.55"/><circle cx="801.5" cy="980.1" r="3.55"/><circle cx="801.8" cy="910.2" r="3.55"/><circle cx="801.3" cy="930.2" r="3.55"/><circle cx="802.0" cy="943.6" r="3.55"/><circle cx="802.3" cy="942.4" r="3.55"/><circle cx="802.2" cy="936.7" r="3.55"/><circle cx="802.7" cy="921.9" r="3.55"/><circle cx="802.4" cy="995.8" r="3.55"/><circle cx="802.8" cy="911.5" r="3.55"/><circle cx="802.9" cy="973.8" r="3.55"/><circle cx="803.0" cy="980.7" r="3.55"/><circle cx="803.5" cy="925.9" r="3.55"/><circle cx="803.3" cy="953.6" r="3.55"/><circle cx="803.7" cy="961.9" r="3.55"/><circle cx="803.4" cy="988.0" r="3.55"/><circle cx="803.5" cy="1037.5" r="3.55"/><circle cx="804.3" cy="879.3" r="3.55"/><circle cx="804.0" cy="1000.1" r="3.55"/><circle cx="803.2" cy="934.9" r="3.55"/><circle cx="803.5" cy="1010.0" r="3.55"/><circle cx="804.2" cy="941.6" r="3.55"/><circle cx="804.3" cy="845.3" r="3.55"/><circle cx="804.3" cy="938.8" r="3.55"/><circle cx="805.0" cy="951.1" r="3.55"/><circle cx="803.9" cy="938.1" r="3.55"/><circle cx="804.5" cy="900.9" r="3.55"/><circle cx="804.3" cy="861.3" r="3.55"/><circle cx="805.2" cy="900.6" r="3.55"/><circle cx="805.3" cy="912.0" r="3.55"/><circle cx="805.6" cy="973.9" r="3.55"/><circle cx="805.3" cy="904.7" r="3.55"/><circle cx="804.9" cy="910.6" r="3.55"/><circle cx="805.4" cy="920.8" r="3.55"/><circle cx="805.9" cy="928.5" r="3.55"/><circle cx="805.3" cy="870.3" r="3.55"/><circle cx="806.4" cy="974.6" r="3.55"/><circle cx="806.3" cy="942.3" r="3.55"/><circle cx="806.0" cy="928.8" r="3.55"/><circle cx="807.0" cy="927.4" r="3.55"/><circle cx="806.1" cy="923.9" r="3.55"/><circle cx="806.9" cy="961.0" r="3.55"/><circle cx="806.5" cy="973.1" r="3.55"/><circle cx="806.7" cy="937.3" r="3.55"/><circle cx="807.1" cy="987.0" r="3.55"/><circle cx="807.3" cy="892.3" r="3.55"/><circle cx="806.7" cy="943.3" r="3.55"/><circle cx="806.6" cy="959.3" r="3.55"/><circle cx="807.3" cy="967.0" r="3.55"/><circle cx="807.6" cy="1025.3" r="3.55"/><circle cx="807.3" cy="922.7" r="3.55"/><circle cx="807.5" cy="977.8" r="3.55"/><circle cx="807.1" cy="960.8" r="3.55"/><circle cx="807.4" cy="968.7" r="3.55"/><circle cx="807.9" cy="975.1" r="3.55"/><circle cx="808.0" cy="975.3" r="3.55"/></g><g fill="#ff0000" stroke="#000000" stroke-width="0.55"><circle cx="809.3" cy="930.0" r="3.55"/><circle cx="808.3" cy="950.0" r="3.55"/><circle cx="808.7" cy="954.0" r="3.55"/><circle cx="808.9" cy="967.2" r="3.55"/><circle cx="808.9" cy="969.5" r="3.55"/><circle cx="808.9" cy="996.0" r="3.55"/><circle cx="808.9" cy="999.6" r="3.55"/><circle cx="808.0" cy="1012.3" r="3.55"/></g></g><g fill="#2a2a2a"><rect x="116" y="795" width="2" height="274"/><rect x="843" y="795" width="2" height="274"/><rect x="116" y="795" width="729" height="2"/><rect x="116" y="1067" width="729" height="2"/><rect x="107" y="1033" width="9" height="2"/><rect x="107" y="965" width="9" height="2"/><rect x="107" y="897" width="9" height="2"/><rect x="107" y="829" width="9" height="2"/><rect x="116" y="1069" width="2" height="9"/><rect x="162" y="1069" width="2" height="9"/><rect x="207" y="1069" width="2" height="9"/><rect x="252" y="1069" width="2" height="9"/><rect x="298" y="1069" width="2" height="9"/><rect x="343" y="1069" width="2" height="9"/><rect x="389" y="1069" width="2" height="9"/><rect x="434" y="1069" width="2" height="9"/><rect x="479" y="1069" width="2" height="9"/><rect x="525" y="1069" width="2" height="9"/><rect x="570" y="1069" width="2" height="9"/><rect x="616" y="1069" width="2" height="9"/><rect x="661" y="1069" width="2" height="9"/><rect x="706" y="1069" width="2" height="9"/><rect x="752" y="1069" width="2" height="9"/><rect x="797" y="1069" width="2" height="9"/><rect x="843" y="1069" width="2" height="9"/></g><g fill="#000"><rect x="113.5" y="999.875" width="3.7" height="1.25"/><rect x="113.5" y="931.875" width="3.7" height="1.25"/><rect x="113.5" y="863.875" width="3.7" height="1.25"/><rect x="113.5" y="795.875" width="3.7" height="1.25"/><rect x="120.875" y="1068" width="1.25" height="4.5"/><rect x="124.875" y="1068" width="1.25" height="4.5"/><rect x="127.875" y="1068" width="1.25" height="4.5"/><rect x="131.875" y="1068" width="1.25" height="4.5"/><rect x="135.875" y="1068" width="1.25" height="4.5"/><rect x="139.875" y="1068" width="1.25" height="4.5"/><rect x="143.875" y="1068" width="1.25" height="4.5"/><rect x="146.875" y="1068" width="1.25" height="4.5"/><rect x="150.875" y="1068" width="1.25" height="4.5"/><rect x="154.875" y="1068" width="1.25" height="4.5"/><rect x="158.875" y="1068" width="1.25" height="4.5"/><rect x="165.875" y="1068" width="1.25" height="4.5"/><rect x="169.875" y="1068" width="1.25" height="4.5"/><rect x="173.875" y="1068" width="1.25" height="4.5"/><rect x="177.875" y="1068" width="1.25" height="4.5"/><rect x="180.875" y="1068" width="1.25" height="4.5"/><rect x="184.875" y="1068" width="1.25" height="4.5"/><rect x="188.875" y="1068" width="1.25" height="4.5"/><rect x="192.875" y="1068" width="1.25" height="4.5"/><rect x="196.875" y="1068" width="1.25" height="4.5"/><rect x="199.875" y="1068" width="1.25" height="4.5"/><rect x="203.875" y="1068" width="1.25" height="4.5"/><rect x="211.875" y="1068" width="1.25" height="4.5"/><rect x="214.875" y="1068" width="1.25" height="4.5"/><rect x="218.875" y="1068" width="1.25" height="4.5"/><rect x="222.875" y="1068" width="1.25" height="4.5"/><rect x="226.875" y="1068" width="1.25" height="4.5"/><rect x="230.875" y="1068" width="1.25" height="4.5"/><rect x="233.875" y="1068" width="1.25" height="4.5"/><rect x="237.875" y="1068" width="1.25" height="4.5"/><rect x="241.875" y="1068" width="1.25" height="4.5"/><rect x="245.875" y="1068" width="1.25" height="4.5"/><rect x="249.875" y="1068" width="1.25" height="4.5"/><rect x="256.875" y="1068" width="1.25" height="4.5"/><rect x="260.875" y="1068" width="1.25" height="4.5"/><rect x="264.875" y="1068" width="1.25" height="4.5"/><rect x="267.875" y="1068" width="1.25" height="4.5"/><rect x="271.875" y="1068" width="1.25" height="4.5"/><rect x="275.875" y="1068" width="1.25" height="4.5"/><rect x="279.875" y="1068" width="1.25" height="4.5"/><rect x="283.875" y="1068" width="1.25" height="4.5"/><rect x="286.875" y="1068" width="1.25" height="4.5"/><rect x="290.875" y="1068" width="1.25" height="4.5"/><rect x="294.875" y="1068" width="1.25" height="4.5"/><rect x="302.875" y="1068" width="1.25" height="4.5"/><rect x="305.875" y="1068" width="1.25" height="4.5"/><rect x="309.875" y="1068" width="1.25" height="4.5"/><rect x="313.875" y="1068" width="1.25" height="4.5"/><rect x="317.875" y="1068" width="1.25" height="4.5"/><rect x="320.875" y="1068" width="1.25" height="4.5"/><rect x="324.875" y="1068" width="1.25" height="4.5"/><rect x="328.875" y="1068" width="1.25" height="4.5"/><rect x="332.875" y="1068" width="1.25" height="4.5"/><rect x="336.875" y="1068" width="1.25" height="4.5"/><rect x="339.875" y="1068" width="1.25" height="4.5"/><rect x="347.875" y="1068" width="1.25" height="4.5"/><rect x="351.875" y="1068" width="1.25" height="4.5"/><rect x="355.875" y="1068" width="1.25" height="4.5"/><rect x="358.875" y="1068" width="1.25" height="4.5"/><rect x="362.875" y="1068" width="1.25" height="4.5"/><rect x="366.875" y="1068" width="1.25" height="4.5"/><rect x="370.875" y="1068" width="1.25" height="4.5"/><rect x="374.875" y="1068" width="1.25" height="4.5"/><rect x="377.875" y="1068" width="1.25" height="4.5"/><rect x="381.875" y="1068" width="1.25" height="4.5"/><rect x="385.875" y="1068" width="1.25" height="4.5"/><rect x="393.875" y="1068" width="1.25" height="4.5"/><rect x="396.875" y="1068" width="1.25" height="4.5"/><rect x="400.875" y="1068" width="1.25" height="4.5"/><rect x="404.875" y="1068" width="1.25" height="4.5"/><rect x="407.875" y="1068" width="1.25" height="4.5"/><rect x="411.875" y="1068" width="1.25" height="4.5"/><rect x="415.875" y="1068" width="1.25" height="4.5"/><rect x="419.875" y="1068" width="1.25" height="4.5"/><rect x="423.875" y="1068" width="1.25" height="4.5"/><rect x="427.875" y="1068" width="1.25" height="4.5"/><rect x="430.875" y="1068" width="1.25" height="4.5"/><rect x="438.875" y="1068" width="1.25" height="4.5"/><rect x="441.875" y="1068" width="1.25" height="4.5"/><rect x="445.875" y="1068" width="1.25" height="4.5"/><rect x="449.875" y="1068" width="1.25" height="4.5"/><rect x="453.875" y="1068" width="1.25" height="4.5"/><rect x="457.875" y="1068" width="1.25" height="4.5"/><rect x="460.875" y="1068" width="1.25" height="4.5"/><rect x="464.875" y="1068" width="1.25" height="4.5"/><rect x="468.875" y="1068" width="1.25" height="4.5"/><rect x="472.875" y="1068" width="1.25" height="4.5"/><rect x="476.875" y="1068" width="1.25" height="4.5"/><rect x="483.875" y="1068" width="1.25" height="4.5"/><rect x="487.875" y="1068" width="1.25" height="4.5"/><rect x="491.875" y="1068" width="1.25" height="4.5"/><rect x="494.875" y="1068" width="1.25" height="4.5"/><rect x="498.875" y="1068" width="1.25" height="4.5"/><rect x="502.875" y="1068" width="1.25" height="4.5"/><rect x="506.875" y="1068" width="1.25" height="4.5"/><rect x="510.875" y="1068" width="1.25" height="4.5"/><rect x="513.875" y="1068" width="1.25" height="4.5"/><rect x="517.875" y="1068" width="1.25" height="4.5"/><rect x="521.875" y="1068" width="1.25" height="4.5"/><rect x="529.875" y="1068" width="1.25" height="4.5"/><rect x="532.875" y="1068" width="1.25" height="4.5"/><rect x="536.875" y="1068" width="1.25" height="4.5"/><rect x="540.875" y="1068" width="1.25" height="4.5"/><rect x="544.875" y="1068" width="1.25" height="4.5"/><rect x="547.875" y="1068" width="1.25" height="4.5"/><rect x="551.875" y="1068" width="1.25" height="4.5"/><rect x="555.875" y="1068" width="1.25" height="4.5"/><rect x="559.875" y="1068" width="1.25" height="4.5"/><rect x="563.875" y="1068" width="1.25" height="4.5"/><rect x="566.875" y="1068" width="1.25" height="4.5"/><rect x="574.875" y="1068" width="1.25" height="4.5"/><rect x="578.875" y="1068" width="1.25" height="4.5"/><rect x="582.875" y="1068" width="1.25" height="4.5"/><rect x="585.875" y="1068" width="1.25" height="4.5"/><rect x="589.875" y="1068" width="1.25" height="4.5"/><rect x="593.875" y="1068" width="1.25" height="4.5"/><rect x="597.875" y="1068" width="1.25" height="4.5"/><rect x="601.875" y="1068" width="1.25" height="4.5"/><rect x="604.875" y="1068" width="1.25" height="4.5"/><rect x="608.875" y="1068" width="1.25" height="4.5"/><rect x="612.875" y="1068" width="1.25" height="4.5"/><rect x="620.875" y="1068" width="1.25" height="4.5"/><rect x="623.875" y="1068" width="1.25" height="4.5"/><rect x="627.875" y="1068" width="1.25" height="4.5"/><rect x="631.875" y="1068" width="1.25" height="4.5"/><rect x="635.875" y="1068" width="1.25" height="4.5"/><rect x="638.875" y="1068" width="1.25" height="4.5"/><rect x="642.875" y="1068" width="1.25" height="4.5"/><rect x="646.875" y="1068" width="1.25" height="4.5"/><rect x="650.875" y="1068" width="1.25" height="4.5"/><rect x="654.875" y="1068" width="1.25" height="4.5"/><rect x="657.875" y="1068" width="1.25" height="4.5"/><rect x="665.875" y="1068" width="1.25" height="4.5"/><rect x="668.875" y="1068" width="1.25" height="4.5"/><rect x="672.875" y="1068" width="1.25" height="4.5"/><rect x="676.875" y="1068" width="1.25" height="4.5"/><rect x="680.875" y="1068" width="1.25" height="4.5"/><rect x="684.875" y="1068" width="1.25" height="4.5"/><rect x="687.875" y="1068" width="1.25" height="4.5"/><rect x="691.875" y="1068" width="1.25" height="4.5"/><rect x="695.875" y="1068" width="1.25" height="4.5"/><rect x="699.875" y="1068" width="1.25" height="4.5"/><rect x="703.875" y="1068" width="1.25" height="4.5"/><rect x="710.875" y="1068" width="1.25" height="4.5"/><rect x="714.875" y="1068" width="1.25" height="4.5"/><rect x="718.875" y="1068" width="1.25" height="4.5"/><rect x="722.875" y="1068" width="1.25" height="4.5"/><rect x="725.875" y="1068" width="1.25" height="4.5"/><rect x="729.875" y="1068" width="1.25" height="4.5"/><rect x="733.875" y="1068" width="1.25" height="4.5"/><rect x="737.875" y="1068" width="1.25" height="4.5"/><rect x="741.875" y="1068" width="1.25" height="4.5"/><rect x="744.875" y="1068" width="1.25" height="4.5"/><rect x="748.875" y="1068" width="1.25" height="4.5"/><rect x="756.875" y="1068" width="1.25" height="4.5"/><rect x="759.875" y="1068" width="1.25" height="4.5"/><rect x="763.875" y="1068" width="1.25" height="4.5"/><rect x="767.875" y="1068" width="1.25" height="4.5"/><rect x="771.875" y="1068" width="1.25" height="4.5"/><rect x="774.875" y="1068" width="1.25" height="4.5"/><rect x="778.875" y="1068" width="1.25" height="4.5"/><rect x="782.875" y="1068" width="1.25" height="4.5"/><rect x="786.875" y="1068" width="1.25" height="4.5"/><rect x="790.875" y="1068" width="1.25" height="4.5"/><rect x="794.875" y="1068" width="1.25" height="4.5"/><rect x="801.875" y="1068" width="1.25" height="4.5"/><rect x="805.875" y="1068" width="1.25" height="4.5"/><rect x="809.875" y="1068" width="1.25" height="4.5"/><rect x="812.875" y="1068" width="1.25" height="4.5"/><rect x="816.875" y="1068" width="1.25" height="4.5"/><rect x="820.875" y="1068" width="1.25" height="4.5"/><rect x="824.875" y="1068" width="1.25" height="4.5"/><rect x="828.875" y="1068" width="1.25" height="4.5"/><rect x="831.875" y="1068" width="1.25" height="4.5"/><rect x="835.875" y="1068" width="1.25" height="4.5"/><rect x="839.875" y="1068" width="1.25" height="4.5"/></g><circle cx="261.4" cy="1147.3" r="3.55" fill="#5153ff" stroke="#000000" stroke-width="0.55"/><circle cx="426.5" cy="1147.3" r="3.55" fill="#ff0000" stroke="#000000" stroke-width="0.55"/><path d="M585 1147H614.1" stroke="#808080" stroke-opacity="0.3" stroke-width="2"/><g style="font-family:'DejaVu Sans', 'Liberation Sans', sans-serif" fill="#000"><text x="468.69" y="35.75" text-anchor="middle" font-size="33.375" font-weight="bold">P828 (GrapeviewWA_2025) NAM14</text><text x="469.07" y="77.95" text-anchor="middle" font-size="22.882">Processed Daily Position Time Series - Cleaned (SD &gt; 20 Removed)</text><text x="100.12" y="424.45" text-anchor="end" font-size="20.833">0</text><text x="100.42" y="369.00" text-anchor="end" font-size="20.833">2</text><text x="99.14" y="314.65" text-anchor="end" font-size="20.833">4</text><text x="100.34" y="261.45" text-anchor="end" font-size="20.833">6</text><text x="100.12" y="206.16" text-anchor="end" font-size="20.833">8</text><text x="99.02" y="151.69" text-anchor="end" font-size="20.833">10</text><text x="98.85" y="723.29" text-anchor="end" font-size="20.833">−4</text><text x="98.93" y="667.91" text-anchor="end" font-size="20.833">−2</text><text x="100.12" y="613.69" text-anchor="end" font-size="20.833">0</text><text x="100.42" y="560.23" text-anchor="end" font-size="20.833">2</text><text x="99.14" y="504.88" text-anchor="end" font-size="20.833">4</text><text x="98.60" y="1041.68" text-anchor="end" font-size="20.833">−20</text><text x="98.44" y="973.78" text-anchor="end" font-size="20.833">−10</text><text x="100.12" y="905.83" text-anchor="end" font-size="20.833">0</text><text x="99.02" y="837.89" text-anchor="end" font-size="20.833">10</text><text x="116.84" y="1101.76" text-anchor="middle" font-size="20.833">2011</text><text x="207.67" y="1101.78" text-anchor="middle" font-size="20.833">2013</text><text x="298.77" y="1101.81" text-anchor="middle" font-size="20.833">2015</text><text x="389.80" y="1101.78" text-anchor="middle" font-size="20.833">2017</text><text x="479.95" y="1101.72" text-anchor="middle" font-size="20.833">2019</text><text x="570.73" y="1101.73" text-anchor="middle" font-size="20.833">2021</text><text x="661.70" y="1101.75" text-anchor="middle" font-size="20.833">2023</text><text x="752.65" y="1101.78" text-anchor="middle" font-size="20.833">2025</text><text x="843.82" y="1101.75" text-anchor="middle" font-size="20.833">2027</text><text transform="translate(60.18 280.92) rotate(-90)" text-anchor="middle" font-size="20.833" font-weight="bold">North (mm)</text><text transform="translate(55.41 606.68) rotate(-90)" text-anchor="middle" font-size="20.833" font-weight="bold">East (mm)</text><text transform="translate(42.42 933.07) rotate(-90)" text-anchor="middle" font-size="20.833" font-weight="bold">Height (mm)</text><text x="843.25" y="440.20" text-anchor="end" font-size="12.063">Plot Adjustment: -3.8 mm</text><text x="843.45" y="765.90" text-anchor="end" font-size="12.063">Plot Adjustment: 1.1 mm</text><text x="843.45" y="1130.00" text-anchor="end" font-size="12.063">Plot Adjustment: 1.3 mm</text><text x="469.25" y="1187.50" text-anchor="middle" font-size="12.026" xml:space="preserve" style="white-space:pre">Source file: P828.cwu.nam14.pos  Last epoch plotted: 2026-03-28 12:00:00</text><text x="286.80" y="1151.80" text-anchor="start" font-size="14.583">Final solution</text><text x="451.80" y="1151.80" text-anchor="start" font-size="14.583">Rapid solution</text><text x="624.90" y="1151.80" text-anchor="start" font-size="14.583">Std. Dev.</text></g></svg>
</body></html>
